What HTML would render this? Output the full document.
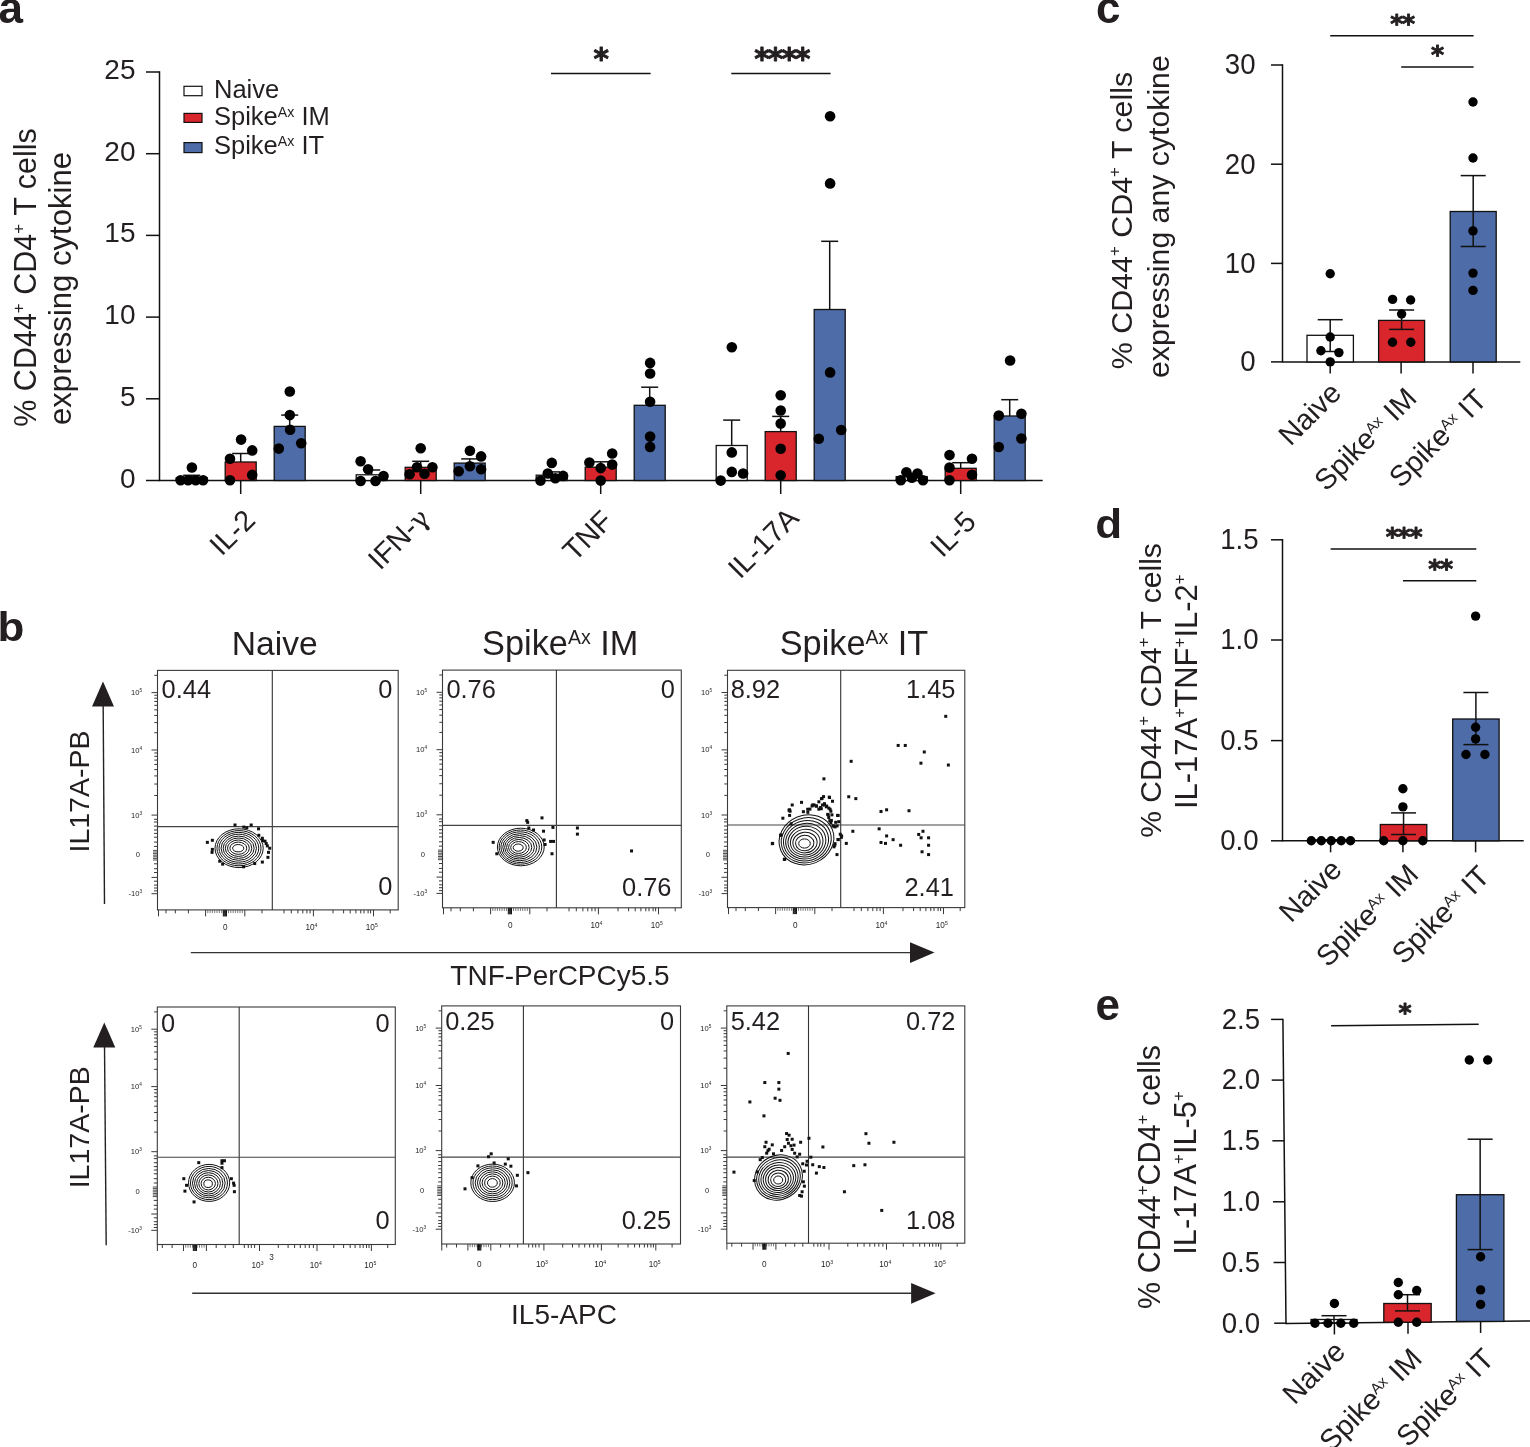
<!DOCTYPE html>
<html><head><meta charset="utf-8"><title>Figure</title>
<style>
html,body{margin:0;padding:0;background:#fff;}
body{width:1530px;height:1447px;overflow:hidden;}
svg{display:block;}
text{font-family:"Liberation Sans", Arial, Helvetica, sans-serif;fill:#231f20;}
</style></head><body>
<svg width="1530" height="1447" viewBox="0 0 1530 1447">
<rect width="1530" height="1447" fill="#fff"/>
<text x="-1.5" y="23" font-size="44" font-weight="bold">a</text>
<text transform="translate(-2.5,640.8) scale(1,0.93)" font-size="44" font-weight="bold">b</text>
<text x="1096" y="22.5" font-size="44" font-weight="bold">c</text>
<text transform="translate(1095.3,538.4) scale(1,0.93)" font-size="44" font-weight="bold">d</text>
<text x="1095.5" y="1020" font-size="44" font-weight="bold">e</text>
<line x1="159.5" y1="71.3" x2="159.5" y2="481.2" stroke="#111" stroke-width="1.5"/>
<line x1="159.5" y1="480.5" x2="1042.7" y2="480.5" stroke="#111" stroke-width="1.5"/>
<line x1="146" y1="480.5" x2="159.5" y2="480.5" stroke="#111" stroke-width="1.5"/>
<text x="135.5" y="487.5" font-size="28" text-anchor="end">0</text>
<line x1="146" y1="398.8" x2="159.5" y2="398.8" stroke="#111" stroke-width="1.5"/>
<text x="135.5" y="405.8" font-size="28" text-anchor="end">5</text>
<line x1="146" y1="317.1" x2="159.5" y2="317.1" stroke="#111" stroke-width="1.5"/>
<text x="135.5" y="324.1" font-size="28" text-anchor="end">10</text>
<line x1="146" y1="235.4" x2="159.5" y2="235.4" stroke="#111" stroke-width="1.5"/>
<text x="135.5" y="242.4" font-size="28" text-anchor="end">15</text>
<line x1="146" y1="153.7" x2="159.5" y2="153.7" stroke="#111" stroke-width="1.5"/>
<text x="135.5" y="160.7" font-size="28" text-anchor="end">20</text>
<line x1="146" y1="72" x2="159.5" y2="72" stroke="#111" stroke-width="1.5"/>
<text x="135.5" y="79" font-size="28" text-anchor="end">25</text>
<line x1="240.7" y1="480.5" x2="240.7" y2="494" stroke="#111" stroke-width="1.5"/>
<line x1="420.7" y1="480.5" x2="420.7" y2="494" stroke="#111" stroke-width="1.5"/>
<line x1="600.7" y1="480.5" x2="600.7" y2="494" stroke="#111" stroke-width="1.5"/>
<line x1="780.7" y1="480.5" x2="780.7" y2="494" stroke="#111" stroke-width="1.5"/>
<line x1="960.7" y1="480.5" x2="960.7" y2="494" stroke="#111" stroke-width="1.5"/>
<line x1="191.7" y1="477.9" x2="191.7" y2="475.3" stroke="#111" stroke-width="1.5"/>
<line x1="183.2" y1="475.3" x2="200.2" y2="475.3" stroke="#111" stroke-width="1.5"/>
<rect x="176.2" y="477.9" width="31" height="2.6" fill="#ffffff" stroke="#111" stroke-width="1.3"/>
<line x1="240.7" y1="462" x2="240.7" y2="453.5" stroke="#111" stroke-width="1.5"/>
<line x1="232.2" y1="453.5" x2="249.2" y2="453.5" stroke="#111" stroke-width="1.5"/>
<rect x="225.2" y="462" width="31" height="18.5" fill="#d8262c" stroke="#111" stroke-width="1.3"/>
<line x1="289.7" y1="426.4" x2="289.7" y2="415.1" stroke="#111" stroke-width="1.5"/>
<line x1="281.2" y1="415.1" x2="298.2" y2="415.1" stroke="#111" stroke-width="1.5"/>
<rect x="274.2" y="426.4" width="31" height="54.1" fill="#4e6ca8" stroke="#111" stroke-width="1.3"/>
<circle cx="180.6" cy="480.3" r="5.3" fill="#000"/>
<circle cx="188.1" cy="480.3" r="5.3" fill="#000"/>
<circle cx="195.7" cy="480.3" r="5.3" fill="#000"/>
<circle cx="203.1" cy="480.3" r="5.3" fill="#000"/>
<circle cx="191.9" cy="467.5" r="5.3" fill="#000"/>
<circle cx="241.1" cy="439.6" r="5.3" fill="#000"/>
<circle cx="252.2" cy="450.4" r="5.3" fill="#000"/>
<circle cx="230" cy="458.7" r="5.3" fill="#000"/>
<circle cx="252.2" cy="474.9" r="5.3" fill="#000"/>
<circle cx="230" cy="480.3" r="5.3" fill="#000"/>
<circle cx="289.8" cy="391.5" r="5.3" fill="#000"/>
<circle cx="289.8" cy="415.1" r="5.3" fill="#000"/>
<circle cx="290.1" cy="429.8" r="5.3" fill="#000"/>
<circle cx="301.2" cy="443.3" r="5.3" fill="#000"/>
<circle cx="278.8" cy="448.6" r="5.3" fill="#000"/>
<line x1="371.7" y1="474.8" x2="371.7" y2="470" stroke="#111" stroke-width="1.5"/>
<line x1="363.2" y1="470" x2="380.2" y2="470" stroke="#111" stroke-width="1.5"/>
<rect x="356.2" y="474.8" width="31" height="5.7" fill="#ffffff" stroke="#111" stroke-width="1.3"/>
<line x1="420.7" y1="467.3" x2="420.7" y2="461.3" stroke="#111" stroke-width="1.5"/>
<line x1="412.2" y1="461.3" x2="429.2" y2="461.3" stroke="#111" stroke-width="1.5"/>
<rect x="405.2" y="467.3" width="31" height="13.2" fill="#d8262c" stroke="#111" stroke-width="1.3"/>
<line x1="469.7" y1="463.1" x2="469.7" y2="458.9" stroke="#111" stroke-width="1.5"/>
<line x1="461.2" y1="458.9" x2="478.2" y2="458.9" stroke="#111" stroke-width="1.5"/>
<rect x="454.2" y="463.1" width="31" height="17.4" fill="#4e6ca8" stroke="#111" stroke-width="1.3"/>
<circle cx="360.6" cy="461.3" r="5.3" fill="#000"/>
<circle cx="368.1" cy="469.3" r="5.3" fill="#000"/>
<circle cx="383.5" cy="476" r="5.3" fill="#000"/>
<circle cx="360.6" cy="481" r="5.3" fill="#000"/>
<circle cx="375.5" cy="481" r="5.3" fill="#000"/>
<circle cx="420.7" cy="448.2" r="5.3" fill="#000"/>
<circle cx="417" cy="467.3" r="5.3" fill="#000"/>
<circle cx="432.4" cy="467.3" r="5.3" fill="#000"/>
<circle cx="409.6" cy="474.3" r="5.3" fill="#000"/>
<circle cx="424.5" cy="473.8" r="5.3" fill="#000"/>
<circle cx="469.9" cy="450.7" r="5.3" fill="#000"/>
<circle cx="481.1" cy="456.4" r="5.3" fill="#000"/>
<circle cx="469.9" cy="466.3" r="5.3" fill="#000"/>
<circle cx="458.7" cy="471.3" r="5.3" fill="#000"/>
<circle cx="481.1" cy="469.3" r="5.3" fill="#000"/>
<line x1="551.7" y1="475.2" x2="551.7" y2="471.9" stroke="#111" stroke-width="1.5"/>
<line x1="543.2" y1="471.9" x2="560.2" y2="471.9" stroke="#111" stroke-width="1.5"/>
<rect x="536.2" y="475.2" width="31" height="5.3" fill="#ffffff" stroke="#111" stroke-width="1.3"/>
<line x1="600.7" y1="467.2" x2="600.7" y2="461.8" stroke="#111" stroke-width="1.5"/>
<line x1="592.2" y1="461.8" x2="609.2" y2="461.8" stroke="#111" stroke-width="1.5"/>
<rect x="585.2" y="467.2" width="31" height="13.3" fill="#d8262c" stroke="#111" stroke-width="1.3"/>
<line x1="649.7" y1="405.3" x2="649.7" y2="387.2" stroke="#111" stroke-width="1.5"/>
<line x1="641.2" y1="387.2" x2="658.2" y2="387.2" stroke="#111" stroke-width="1.5"/>
<rect x="634.2" y="405.3" width="31" height="75.2" fill="#4e6ca8" stroke="#111" stroke-width="1.3"/>
<circle cx="551.8" cy="462.9" r="5.3" fill="#000"/>
<circle cx="547.8" cy="473.5" r="5.3" fill="#000"/>
<circle cx="563.1" cy="475.9" r="5.3" fill="#000"/>
<circle cx="540.5" cy="480.6" r="5.3" fill="#000"/>
<circle cx="555.3" cy="478.2" r="5.3" fill="#000"/>
<circle cx="589.4" cy="462.5" r="5.3" fill="#000"/>
<circle cx="612.2" cy="453.5" r="5.3" fill="#000"/>
<circle cx="612.2" cy="464.6" r="5.3" fill="#000"/>
<circle cx="600.7" cy="468.1" r="5.3" fill="#000"/>
<circle cx="600.7" cy="480.6" r="5.3" fill="#000"/>
<circle cx="650.1" cy="362.9" r="5.3" fill="#000"/>
<circle cx="650.1" cy="373.5" r="5.3" fill="#000"/>
<circle cx="650.1" cy="401.8" r="5.3" fill="#000"/>
<circle cx="650.1" cy="436.6" r="5.3" fill="#000"/>
<circle cx="650.1" cy="446.9" r="5.3" fill="#000"/>
<line x1="731.7" y1="445.5" x2="731.7" y2="420.1" stroke="#111" stroke-width="1.5"/>
<line x1="723.2" y1="420.1" x2="740.2" y2="420.1" stroke="#111" stroke-width="1.5"/>
<rect x="716.2" y="445.5" width="31" height="35" fill="#ffffff" stroke="#111" stroke-width="1.3"/>
<line x1="780.7" y1="431.6" x2="780.7" y2="416.4" stroke="#111" stroke-width="1.5"/>
<line x1="772.2" y1="416.4" x2="789.2" y2="416.4" stroke="#111" stroke-width="1.5"/>
<rect x="765.2" y="431.6" width="31" height="48.9" fill="#d8262c" stroke="#111" stroke-width="1.3"/>
<line x1="829.7" y1="309.5" x2="829.7" y2="241.3" stroke="#111" stroke-width="1.5"/>
<line x1="821.2" y1="241.3" x2="838.2" y2="241.3" stroke="#111" stroke-width="1.5"/>
<rect x="814.2" y="309.5" width="31" height="171" fill="#4e6ca8" stroke="#111" stroke-width="1.3"/>
<circle cx="731.8" cy="347.2" r="5.3" fill="#000"/>
<circle cx="731.8" cy="452.4" r="5.3" fill="#000"/>
<circle cx="731.8" cy="471.9" r="5.3" fill="#000"/>
<circle cx="743.1" cy="473.5" r="5.3" fill="#000"/>
<circle cx="720.7" cy="480.6" r="5.3" fill="#000"/>
<circle cx="780.7" cy="395.2" r="5.3" fill="#000"/>
<circle cx="780.7" cy="410.5" r="5.3" fill="#000"/>
<circle cx="780.7" cy="423.6" r="5.3" fill="#000"/>
<circle cx="780.7" cy="448.8" r="5.3" fill="#000"/>
<circle cx="780.7" cy="475.2" r="5.3" fill="#000"/>
<circle cx="830.1" cy="116.3" r="5.3" fill="#000"/>
<circle cx="830.1" cy="183.4" r="5.3" fill="#000"/>
<circle cx="830.1" cy="372.4" r="5.3" fill="#000"/>
<circle cx="841.2" cy="430" r="5.3" fill="#000"/>
<circle cx="818.8" cy="438.7" r="5.3" fill="#000"/>
<line x1="911.7" y1="476.6" x2="911.7" y2="474.5" stroke="#111" stroke-width="1.5"/>
<line x1="903.2" y1="474.5" x2="920.2" y2="474.5" stroke="#111" stroke-width="1.5"/>
<rect x="896.2" y="476.6" width="31" height="3.9" fill="#ffffff" stroke="#111" stroke-width="1.3"/>
<line x1="960.7" y1="468.3" x2="960.7" y2="462.7" stroke="#111" stroke-width="1.5"/>
<line x1="952.2" y1="462.7" x2="969.2" y2="462.7" stroke="#111" stroke-width="1.5"/>
<rect x="945.2" y="468.3" width="31" height="12.2" fill="#d8262c" stroke="#111" stroke-width="1.3"/>
<line x1="1009.7" y1="416" x2="1009.7" y2="399.7" stroke="#111" stroke-width="1.5"/>
<line x1="1001.2" y1="399.7" x2="1018.2" y2="399.7" stroke="#111" stroke-width="1.5"/>
<rect x="994.2" y="416" width="31" height="64.5" fill="#4e6ca8" stroke="#111" stroke-width="1.3"/>
<circle cx="900.8" cy="480.3" r="5.3" fill="#000"/>
<circle cx="906.4" cy="472.2" r="5.3" fill="#000"/>
<circle cx="911.9" cy="477.7" r="5.3" fill="#000"/>
<circle cx="917.5" cy="473.5" r="5.3" fill="#000"/>
<circle cx="923" cy="480.3" r="5.3" fill="#000"/>
<circle cx="949.5" cy="455.1" r="5.3" fill="#000"/>
<circle cx="972" cy="458.8" r="5.3" fill="#000"/>
<circle cx="949.5" cy="467.5" r="5.3" fill="#000"/>
<circle cx="972" cy="474.8" r="5.3" fill="#000"/>
<circle cx="949.5" cy="480.3" r="5.3" fill="#000"/>
<circle cx="1010.1" cy="360.5" r="5.3" fill="#000"/>
<circle cx="998.8" cy="415.6" r="5.3" fill="#000"/>
<circle cx="1021.4" cy="413.7" r="5.3" fill="#000"/>
<circle cx="1021.4" cy="438.5" r="5.3" fill="#000"/>
<circle cx="998.8" cy="447" r="5.3" fill="#000"/>
<line x1="551" y1="73.5" x2="650.6" y2="73.5" stroke="#111" stroke-width="1.5"/>
<text x="601.2" y="69.2" font-size="29.5" text-anchor="middle" font-weight="bold" style="font-family:&quot;DejaVu Sans&quot;,sans-serif" letter-spacing="0" stroke="#231f20" stroke-width="0.9" stroke-linejoin="round">*</text>
<line x1="731.3" y1="73.5" x2="830.6" y2="73.5" stroke="#111" stroke-width="1.5"/>
<text x="781.4" y="69.2" font-size="29.5" text-anchor="middle" font-weight="bold" style="font-family:&quot;DejaVu Sans&quot;,sans-serif" letter-spacing="-1.8" stroke="#231f20" stroke-width="0.9" stroke-linejoin="round">****</text>
<rect x="184" y="86.3" width="18" height="9.4" fill="#fff" stroke="#111" stroke-width="1.2"/>
<rect x="184" y="113.4" width="18" height="9" fill="#d8262c" stroke="#111" stroke-width="1.2"/>
<rect x="184" y="142.6" width="18" height="10" fill="#4e6ca8" stroke="#111" stroke-width="1.2"/>
<text x="214" y="97.9" font-size="25.5">Naive</text>
<text x="214" y="124.5" font-size="25.5">Spike<tspan font-size="14.2" dy="-8">Ax</tspan><tspan dy="8"> IM</tspan></text>
<text x="214" y="153.8" font-size="25.5">Spike<tspan font-size="14.2" dy="-8">Ax</tspan><tspan dy="8"> IT</tspan></text>
<text transform="translate(35.5,277.5) rotate(-90)" font-size="30.5" text-anchor="middle">% CD44<tspan font-size="17" dy="-12">+</tspan><tspan dy="12"> CD4<tspan font-size="17" dy="-12">+</tspan><tspan dy="12"> T cells</tspan></tspan></text>
<text transform="translate(71.1,288.45) rotate(-90)" font-size="31.1" text-anchor="middle">expressing cytokine</text>
<text transform="translate(256.8,521.75) rotate(-45)" font-size="29" text-anchor="end">IL-2</text>
<text transform="translate(431.25,519.85) rotate(-45)" font-size="29" text-anchor="end">IFN-<tspan font-family="DejaVu Serif" font-size="27">&#947;</tspan></text>
<text transform="translate(614.5,522.65) rotate(-45)" font-size="29" text-anchor="end">TNF</text>
<text transform="translate(800.35,519.7) rotate(-45)" font-size="29" text-anchor="end">IL-17A</text>
<text transform="translate(977.6,523.4) rotate(-45)" font-size="29" text-anchor="end">IL-5</text>
<line x1="1282.5" y1="64.3" x2="1282.5" y2="362.6" stroke="#111" stroke-width="1.5"/>
<line x1="1282.5" y1="361.9" x2="1520.3" y2="361.9" stroke="#111" stroke-width="1.5"/>
<line x1="1271" y1="361.9" x2="1282.5" y2="361.9" stroke="#111" stroke-width="1.5"/>
<text transform="translate(1255.5,371.2) scale(1,1.08)" font-size="27.6" text-anchor="end">0</text>
<line x1="1271" y1="263.4" x2="1282.5" y2="263.4" stroke="#111" stroke-width="1.5"/>
<text transform="translate(1255.5,272.7) scale(1,1.08)" font-size="27.6" text-anchor="end">10</text>
<line x1="1271" y1="164.2" x2="1282.5" y2="164.2" stroke="#111" stroke-width="1.5"/>
<text transform="translate(1255.5,173.5) scale(1,1.08)" font-size="27.6" text-anchor="end">20</text>
<line x1="1271" y1="65" x2="1282.5" y2="65" stroke="#111" stroke-width="1.5"/>
<text transform="translate(1255.5,74.3) scale(1,1.08)" font-size="27.6" text-anchor="end">30</text>
<line x1="1330.2" y1="361.9" x2="1330.2" y2="373.4" stroke="#111" stroke-width="1.5"/>
<line x1="1401.1" y1="361.9" x2="1401.1" y2="373.4" stroke="#111" stroke-width="1.5"/>
<line x1="1473" y1="361.9" x2="1473" y2="373.4" stroke="#111" stroke-width="1.5"/>
<rect x="1307" y="335.3" width="46.4" height="26.6" fill="#ffffff" stroke="#111" stroke-width="1.3"/>
<line x1="1330.2" y1="319.7" x2="1330.2" y2="351.5" stroke="#111" stroke-width="1.5"/>
<line x1="1317.7" y1="319.7" x2="1342.7" y2="319.7" stroke="#111" stroke-width="1.5"/>
<line x1="1317.7" y1="351.5" x2="1342.7" y2="351.5" stroke="#111" stroke-width="1.5"/>
<rect x="1378.6" y="320.4" width="46" height="41.5" fill="#d8262c" stroke="#111" stroke-width="1.3"/>
<line x1="1401.6" y1="310" x2="1401.6" y2="329.4" stroke="#111" stroke-width="1.5"/>
<line x1="1389.1" y1="310" x2="1414.1" y2="310" stroke="#111" stroke-width="1.5"/>
<line x1="1389.1" y1="329.4" x2="1414.1" y2="329.4" stroke="#111" stroke-width="1.5"/>
<rect x="1450.2" y="211.5" width="46" height="150.4" fill="#4e6ca8" stroke="#111" stroke-width="1.3"/>
<line x1="1473.2" y1="175.6" x2="1473.2" y2="246.5" stroke="#111" stroke-width="1.5"/>
<line x1="1460.7" y1="175.6" x2="1485.7" y2="175.6" stroke="#111" stroke-width="1.5"/>
<line x1="1460.7" y1="246.5" x2="1485.7" y2="246.5" stroke="#111" stroke-width="1.5"/>
<circle cx="1330.2" cy="273.8" r="4.7" fill="#000"/>
<circle cx="1330.2" cy="337" r="4.7" fill="#000"/>
<circle cx="1320.9" cy="350.8" r="4.7" fill="#000"/>
<circle cx="1338.9" cy="352.6" r="4.7" fill="#000"/>
<circle cx="1330.2" cy="361.9" r="4.7" fill="#000"/>
<circle cx="1392.6" cy="299.4" r="4.7" fill="#000"/>
<circle cx="1410.6" cy="300" r="4.7" fill="#000"/>
<circle cx="1401.6" cy="314" r="4.7" fill="#000"/>
<circle cx="1392.5" cy="342.2" r="4.7" fill="#000"/>
<circle cx="1410.8" cy="342.2" r="4.7" fill="#000"/>
<circle cx="1473" cy="102" r="4.7" fill="#000"/>
<circle cx="1473" cy="158" r="4.7" fill="#000"/>
<circle cx="1473" cy="230.9" r="4.7" fill="#000"/>
<circle cx="1473" cy="273.1" r="4.7" fill="#000"/>
<circle cx="1473" cy="290.4" r="4.7" fill="#000"/>
<line x1="1330.2" y1="35.8" x2="1473.6" y2="35.8" stroke="#111" stroke-width="1.5"/>
<text x="1402.1" y="32.4" font-size="25" text-anchor="middle" font-weight="bold" style="font-family:&quot;DejaVu Sans&quot;,sans-serif" letter-spacing="-1.2" stroke="#231f20" stroke-width="0.9" stroke-linejoin="round">**</text>
<line x1="1401.2" y1="67.1" x2="1473.6" y2="67.1" stroke="#111" stroke-width="1.5"/>
<text x="1437.65" y="62.6" font-size="25" text-anchor="middle" font-weight="bold" style="font-family:&quot;DejaVu Sans&quot;,sans-serif" letter-spacing="0" stroke="#231f20" stroke-width="0.9" stroke-linejoin="round">*</text>
<text transform="translate(1132.1,220.55) rotate(-90)" font-size="30.4" text-anchor="middle">% CD44<tspan font-size="17" dy="-12">+</tspan><tspan dy="12"> CD4<tspan font-size="17" dy="-12">+</tspan><tspan dy="12"> T cells</tspan></tspan></text>
<text transform="translate(1168.8,216.65) rotate(-90)" font-size="30.25" text-anchor="middle">expressing any cytokine</text>
<text transform="translate(1343,394.5) rotate(-45)" font-size="29" text-anchor="end">Naive</text>
<text transform="translate(1418.4,400) rotate(-45)" font-size="29" text-anchor="end">Spike<tspan font-size="15" dy="-9">Ax</tspan><tspan dy="9"> IM</tspan></text>
<text transform="translate(1488.5,401.4) rotate(-45)" font-size="29" text-anchor="end">Spike<tspan font-size="15" dy="-9">Ax</tspan><tspan dy="9"> IT</tspan></text>
<line x1="1282.5" y1="539.1" x2="1282.5" y2="841.5" stroke="#111" stroke-width="1.5"/>
<line x1="1282.5" y1="840.8" x2="1523.7" y2="840.8" stroke="#111" stroke-width="1.5"/>
<line x1="1271" y1="840.8" x2="1282.5" y2="840.8" stroke="#111" stroke-width="1.5"/>
<text transform="translate(1258.5,850.1) scale(1,1.08)" font-size="27.6" text-anchor="end">0.0</text>
<line x1="1271" y1="740.6" x2="1282.5" y2="740.6" stroke="#111" stroke-width="1.5"/>
<text transform="translate(1258.5,749.9) scale(1,1.08)" font-size="27.6" text-anchor="end">0.5</text>
<line x1="1271" y1="640" x2="1282.5" y2="640" stroke="#111" stroke-width="1.5"/>
<text transform="translate(1258.5,649.3) scale(1,1.08)" font-size="27.6" text-anchor="end">1.0</text>
<line x1="1271" y1="539.8" x2="1282.5" y2="539.8" stroke="#111" stroke-width="1.5"/>
<text transform="translate(1258.5,549.1) scale(1,1.08)" font-size="27.6" text-anchor="end">1.5</text>
<line x1="1330.6" y1="840.8" x2="1330.6" y2="852.3" stroke="#111" stroke-width="1.5"/>
<line x1="1402.9" y1="840.8" x2="1402.9" y2="852.3" stroke="#111" stroke-width="1.5"/>
<line x1="1475.6" y1="840.8" x2="1475.6" y2="852.3" stroke="#111" stroke-width="1.5"/>
<rect x="1308" y="839.8" width="45" height="1" fill="#ffffff" stroke="#111" stroke-width="1.3"/>
<line x1="1330.5" y1="839.8" x2="1330.5" y2="839.8" stroke="#111" stroke-width="1.5"/>
<line x1="1318" y1="839.8" x2="1343" y2="839.8" stroke="#111" stroke-width="1.5"/>
<line x1="1318" y1="839.8" x2="1343" y2="839.8" stroke="#111" stroke-width="1.5"/>
<rect x="1380.3" y="824.5" width="46.5" height="16.3" fill="#d8262c" stroke="#111" stroke-width="1.3"/>
<line x1="1403.55" y1="812.9" x2="1403.55" y2="834.5" stroke="#111" stroke-width="1.5"/>
<line x1="1391.05" y1="812.9" x2="1416.05" y2="812.9" stroke="#111" stroke-width="1.5"/>
<line x1="1391.05" y1="834.5" x2="1416.05" y2="834.5" stroke="#111" stroke-width="1.5"/>
<rect x="1452.7" y="719" width="46.4" height="121.8" fill="#4e6ca8" stroke="#111" stroke-width="1.3"/>
<line x1="1475.9" y1="692.5" x2="1475.9" y2="744.6" stroke="#111" stroke-width="1.5"/>
<line x1="1463.4" y1="692.5" x2="1488.4" y2="692.5" stroke="#111" stroke-width="1.5"/>
<line x1="1463.4" y1="744.6" x2="1488.4" y2="744.6" stroke="#111" stroke-width="1.5"/>
<circle cx="1311.3" cy="840.8" r="4.7" fill="#000"/>
<circle cx="1321.3" cy="840.8" r="4.7" fill="#000"/>
<circle cx="1331.2" cy="840.8" r="4.7" fill="#000"/>
<circle cx="1341.2" cy="840.8" r="4.7" fill="#000"/>
<circle cx="1350.5" cy="840.8" r="4.7" fill="#000"/>
<circle cx="1402.9" cy="788.7" r="4.7" fill="#000"/>
<circle cx="1402.9" cy="806.9" r="4.7" fill="#000"/>
<circle cx="1383.7" cy="840.8" r="4.7" fill="#000"/>
<circle cx="1402.9" cy="840.8" r="4.7" fill="#000"/>
<circle cx="1422.8" cy="840.8" r="4.7" fill="#000"/>
<circle cx="1475.6" cy="616.1" r="4.7" fill="#000"/>
<circle cx="1475.6" cy="727.3" r="4.7" fill="#000"/>
<circle cx="1475.6" cy="738.9" r="4.7" fill="#000"/>
<circle cx="1466" cy="754.5" r="4.7" fill="#000"/>
<circle cx="1484.9" cy="754.5" r="4.7" fill="#000"/>
<line x1="1330.6" y1="549" x2="1476.3" y2="549" stroke="#111" stroke-width="1.5"/>
<text x="1403.55" y="545.1" font-size="25" text-anchor="middle" font-weight="bold" style="font-family:&quot;DejaVu Sans&quot;,sans-serif" letter-spacing="-1.2" stroke="#231f20" stroke-width="0.9" stroke-linejoin="round">***</text>
<line x1="1403" y1="580.7" x2="1476.3" y2="580.7" stroke="#111" stroke-width="1.5"/>
<text x="1440.1" y="576.9" font-size="25" text-anchor="middle" font-weight="bold" style="font-family:&quot;DejaVu Sans&quot;,sans-serif" letter-spacing="-1.2" stroke="#231f20" stroke-width="0.9" stroke-linejoin="round">**</text>
<text transform="translate(1160.5,690.45) rotate(-90)" font-size="30.1" text-anchor="middle">% CD44<tspan font-size="17" dy="-12">+</tspan><tspan dy="12"> CD4<tspan font-size="17" dy="-12">+</tspan><tspan dy="12"> T cells</tspan></tspan></text>
<text transform="translate(1197,691.65) rotate(-90)" font-size="31" text-anchor="middle">IL-17A<tspan font-size="17" dy="-12">+</tspan><tspan dy="12">TNF<tspan font-size="17" dy="-12">+</tspan><tspan dy="12">IL-2<tspan font-size="17" dy="-12">+</tspan><tspan dy="12"></tspan></tspan></tspan></text>
<text transform="translate(1343.35,871.35) rotate(-45)" font-size="29" text-anchor="end">Naive</text>
<text transform="translate(1420.1,876.2) rotate(-45)" font-size="29" text-anchor="end">Spike<tspan font-size="15" dy="-9">Ax</tspan><tspan dy="9"> IM</tspan></text>
<text transform="translate(1491.4,878) rotate(-45)" font-size="29" text-anchor="end">Spike<tspan font-size="15" dy="-9">Ax</tspan><tspan dy="9"> IT</tspan></text>
<line x1="1282.9" y1="1018.7" x2="1286" y2="1324.2" stroke="#111" stroke-width="1.5"/>
<line x1="1286" y1="1323.5" x2="1530" y2="1320.9" stroke="#111" stroke-width="1.5"/>
<line x1="1274.2" y1="1323.2" x2="1286" y2="1323.2" stroke="#111" stroke-width="1.5"/>
<text transform="translate(1260,1332.5) scale(1,1.08)" font-size="27.6" text-anchor="end">0.0</text>
<line x1="1273.58" y1="1262.5" x2="1285.38" y2="1262.5" stroke="#111" stroke-width="1.5"/>
<text transform="translate(1260,1271.8) scale(1,1.08)" font-size="27.6" text-anchor="end">0.5</text>
<line x1="1272.96" y1="1201.8" x2="1284.76" y2="1201.8" stroke="#111" stroke-width="1.5"/>
<text transform="translate(1260,1211.1) scale(1,1.08)" font-size="27.6" text-anchor="end">1.0</text>
<line x1="1272.34" y1="1140.8" x2="1284.14" y2="1140.8" stroke="#111" stroke-width="1.5"/>
<text transform="translate(1260,1150.1) scale(1,1.08)" font-size="27.6" text-anchor="end">1.5</text>
<line x1="1271.72" y1="1080.1" x2="1283.52" y2="1080.1" stroke="#111" stroke-width="1.5"/>
<text transform="translate(1260,1089.4) scale(1,1.08)" font-size="27.6" text-anchor="end">2.0</text>
<line x1="1271.1" y1="1019.4" x2="1282.9" y2="1019.4" stroke="#111" stroke-width="1.5"/>
<text transform="translate(1260,1028.7) scale(1,1.08)" font-size="27.6" text-anchor="end">2.5</text>
<line x1="1334.4" y1="1322.98" x2="1334.4" y2="1334.48" stroke="#111" stroke-width="1.5"/>
<line x1="1408" y1="1322.2" x2="1408" y2="1333.7" stroke="#111" stroke-width="1.5"/>
<line x1="1480.6" y1="1321.43" x2="1480.6" y2="1332.93" stroke="#111" stroke-width="1.5"/>
<rect x="1311" y="1319.5" width="46" height="3.49" fill="#ffffff" stroke="#111" stroke-width="1.3"/>
<line x1="1334" y1="1315.7" x2="1334" y2="1323" stroke="#111" stroke-width="1.5"/>
<line x1="1321.5" y1="1315.7" x2="1346.5" y2="1315.7" stroke="#111" stroke-width="1.5"/>
<line x1="1321.5" y1="1323" x2="1346.5" y2="1323" stroke="#111" stroke-width="1.5"/>
<rect x="1383.8" y="1303.5" width="47.4" height="18.71" fill="#d8262c" stroke="#111" stroke-width="1.3"/>
<line x1="1407.5" y1="1294.7" x2="1407.5" y2="1310.9" stroke="#111" stroke-width="1.5"/>
<line x1="1395" y1="1294.7" x2="1420" y2="1294.7" stroke="#111" stroke-width="1.5"/>
<line x1="1395" y1="1310.9" x2="1420" y2="1310.9" stroke="#111" stroke-width="1.5"/>
<rect x="1456.4" y="1194.7" width="47.5" height="126.73" fill="#4e6ca8" stroke="#111" stroke-width="1.3"/>
<line x1="1480.15" y1="1139.2" x2="1480.15" y2="1249.6" stroke="#111" stroke-width="1.5"/>
<line x1="1467.65" y1="1139.2" x2="1492.65" y2="1139.2" stroke="#111" stroke-width="1.5"/>
<line x1="1467.65" y1="1249.6" x2="1492.65" y2="1249.6" stroke="#111" stroke-width="1.5"/>
<circle cx="1334.4" cy="1303.5" r="4.7" fill="#000"/>
<circle cx="1315" cy="1323.2" r="4.7" fill="#000"/>
<circle cx="1327.9" cy="1323.2" r="4.7" fill="#000"/>
<circle cx="1340.8" cy="1323.2" r="4.7" fill="#000"/>
<circle cx="1353.7" cy="1323.2" r="4.7" fill="#000"/>
<circle cx="1398.3" cy="1282.5" r="4.7" fill="#000"/>
<circle cx="1398.3" cy="1294.7" r="4.7" fill="#000"/>
<circle cx="1416.7" cy="1290.5" r="4.7" fill="#000"/>
<circle cx="1398.3" cy="1322.2" r="4.7" fill="#000"/>
<circle cx="1416.7" cy="1322.2" r="4.7" fill="#000"/>
<circle cx="1469.3" cy="1060" r="4.7" fill="#000"/>
<circle cx="1487.7" cy="1060" r="4.7" fill="#000"/>
<circle cx="1480.6" cy="1256.7" r="4.7" fill="#000"/>
<circle cx="1480.6" cy="1289.9" r="4.7" fill="#000"/>
<circle cx="1480.6" cy="1304.4" r="4.7" fill="#000"/>
<line x1="1331.1" y1="1025.8" x2="1478.7" y2="1024.2" stroke="#111" stroke-width="1.5"/>
<text x="1405.1" y="1020.9" font-size="25" text-anchor="middle" font-weight="bold" style="font-family:&quot;DejaVu Sans&quot;,sans-serif" letter-spacing="0" stroke="#231f20" stroke-width="0.9" stroke-linejoin="round">*</text>
<text transform="translate(1160,1176.95) rotate(-90)" font-size="30.5" text-anchor="middle">% CD44<tspan font-size="17" dy="-12">+</tspan><tspan dy="12">CD4<tspan font-size="17" dy="-12">+</tspan><tspan dy="12"> cells</tspan></tspan></text>
<text transform="translate(1196.4,1172.9) rotate(-90)" font-size="30.8" text-anchor="middle">IL-17A<tspan font-size="17" dy="-12">+</tspan><tspan dy="12">IL-5<tspan font-size="17" dy="-12">+</tspan><tspan dy="12"></tspan></tspan></text>
<text transform="translate(1347,1353.3) rotate(-45)" font-size="29" text-anchor="end">Naive</text>
<text transform="translate(1423.5,1360.5) rotate(-45)" font-size="29" text-anchor="end">Spike<tspan font-size="15" dy="-9">Ax</tspan><tspan dy="9"> IM</tspan></text>
<text transform="translate(1495.8,1360.7) rotate(-45)" font-size="29" text-anchor="end">Spike<tspan font-size="15" dy="-9">Ax</tspan><tspan dy="9"> IT</tspan></text>
<line x1="151.5" y1="692.6" x2="157.5" y2="692.6" stroke="#222" stroke-width="0.9"/>
<line x1="151.5" y1="750" x2="157.5" y2="750" stroke="#222" stroke-width="0.9"/>
<line x1="151.5" y1="815.1" x2="157.5" y2="815.1" stroke="#222" stroke-width="0.9"/>
<line x1="154.3" y1="732.72" x2="157.5" y2="732.72" stroke="#222" stroke-width="0.9"/>
<line x1="154.3" y1="722.61" x2="157.5" y2="722.61" stroke="#222" stroke-width="0.9"/>
<line x1="154.3" y1="715.44" x2="157.5" y2="715.44" stroke="#222" stroke-width="0.9"/>
<line x1="154.3" y1="709.88" x2="157.5" y2="709.88" stroke="#222" stroke-width="0.9"/>
<line x1="154.3" y1="705.33" x2="157.5" y2="705.33" stroke="#222" stroke-width="0.9"/>
<line x1="154.3" y1="701.49" x2="157.5" y2="701.49" stroke="#222" stroke-width="0.9"/>
<line x1="154.3" y1="698.16" x2="157.5" y2="698.16" stroke="#222" stroke-width="0.9"/>
<line x1="154.3" y1="695.23" x2="157.5" y2="695.23" stroke="#222" stroke-width="0.9"/>
<line x1="154.3" y1="795.5" x2="157.5" y2="795.5" stroke="#222" stroke-width="0.9"/>
<line x1="154.3" y1="784.04" x2="157.5" y2="784.04" stroke="#222" stroke-width="0.9"/>
<line x1="154.3" y1="775.91" x2="157.5" y2="775.91" stroke="#222" stroke-width="0.9"/>
<line x1="154.3" y1="769.6" x2="157.5" y2="769.6" stroke="#222" stroke-width="0.9"/>
<line x1="154.3" y1="764.44" x2="157.5" y2="764.44" stroke="#222" stroke-width="0.9"/>
<line x1="154.3" y1="760.08" x2="157.5" y2="760.08" stroke="#222" stroke-width="0.9"/>
<line x1="154.3" y1="756.31" x2="157.5" y2="756.31" stroke="#222" stroke-width="0.9"/>
<line x1="154.3" y1="752.98" x2="157.5" y2="752.98" stroke="#222" stroke-width="0.9"/>
<line x1="154.3" y1="675.32" x2="157.5" y2="675.32" stroke="#222" stroke-width="0.9"/>
<line x1="154" y1="819.3" x2="157.5" y2="819.3" stroke="#222" stroke-width="0.9"/>
<line x1="154" y1="822" x2="157.5" y2="822" stroke="#222" stroke-width="0.9"/>
<line x1="154" y1="826.1" x2="157.5" y2="826.1" stroke="#222" stroke-width="0.9"/>
<line x1="154" y1="830" x2="157.5" y2="830" stroke="#222" stroke-width="0.9"/>
<line x1="154" y1="833.4" x2="157.5" y2="833.4" stroke="#222" stroke-width="0.9"/>
<line x1="154" y1="837.2" x2="157.5" y2="837.2" stroke="#222" stroke-width="0.9"/>
<line x1="154" y1="842.1" x2="157.5" y2="842.1" stroke="#222" stroke-width="0.9"/>
<line x1="154" y1="846.4" x2="157.5" y2="846.4" stroke="#222" stroke-width="0.9"/>
<line x1="154" y1="863.8" x2="157.5" y2="863.8" stroke="#222" stroke-width="0.9"/>
<line x1="154" y1="868.7" x2="157.5" y2="868.7" stroke="#222" stroke-width="0.9"/>
<line x1="154" y1="872.5" x2="157.5" y2="872.5" stroke="#222" stroke-width="0.9"/>
<line x1="154" y1="881.2" x2="157.5" y2="881.2" stroke="#222" stroke-width="0.9"/>
<line x1="154" y1="885.1" x2="157.5" y2="885.1" stroke="#222" stroke-width="0.9"/>
<line x1="154" y1="888" x2="157.5" y2="888" stroke="#222" stroke-width="0.9"/>
<line x1="154" y1="890.9" x2="157.5" y2="890.9" stroke="#222" stroke-width="0.9"/>
<line x1="151.5" y1="877.4" x2="157.5" y2="877.4" stroke="#222" stroke-width="0.9"/>
<line x1="151.5" y1="893.7" x2="157.5" y2="893.7" stroke="#222" stroke-width="0.9"/>
<line x1="153" y1="850.4" x2="157.5" y2="850.4" stroke="#222" stroke-width="0.8"/>
<line x1="153" y1="852" x2="157.5" y2="852" stroke="#222" stroke-width="0.8"/>
<line x1="153" y1="853.6" x2="157.5" y2="853.6" stroke="#222" stroke-width="0.8"/>
<line x1="153" y1="855.2" x2="157.5" y2="855.2" stroke="#222" stroke-width="0.8"/>
<line x1="153" y1="856.8" x2="157.5" y2="856.8" stroke="#222" stroke-width="0.8"/>
<line x1="153" y1="858.4" x2="157.5" y2="858.4" stroke="#222" stroke-width="0.8"/>
<line x1="153" y1="860" x2="157.5" y2="860" stroke="#222" stroke-width="0.8"/>
<text x="142" y="695.1" font-size="7.6" text-anchor="end" fill="#222">10<tspan font-size="4.7" dy="-3">5</tspan></text>
<text x="142" y="752.5" font-size="7.6" text-anchor="end" fill="#222">10<tspan font-size="4.7" dy="-3">4</tspan></text>
<text x="142" y="817.6" font-size="7.6" text-anchor="end" fill="#222">10<tspan font-size="4.7" dy="-3">3</tspan></text>
<text x="140" y="857.2" font-size="7.6" text-anchor="end" fill="#222">0</text>
<text x="142" y="896.2" font-size="7.6" text-anchor="end" fill="#222">-10<tspan font-size="4.7" dy="-3">3</tspan></text>
<line x1="158.5" y1="909.9" x2="158.5" y2="916.4" stroke="#222" stroke-width="0.9"/>
<line x1="205.6" y1="909.9" x2="205.6" y2="916.4" stroke="#222" stroke-width="0.9"/>
<line x1="244.8" y1="909.9" x2="244.8" y2="916.4" stroke="#222" stroke-width="0.9"/>
<line x1="313.4" y1="909.9" x2="313.4" y2="916.4" stroke="#222" stroke-width="0.9"/>
<line x1="373.5" y1="909.9" x2="373.5" y2="916.4" stroke="#222" stroke-width="0.9"/>
<line x1="166" y1="909.9" x2="166" y2="913.4" stroke="#222" stroke-width="0.9"/>
<line x1="175.3" y1="909.9" x2="175.3" y2="913.4" stroke="#222" stroke-width="0.9"/>
<line x1="188.4" y1="909.9" x2="188.4" y2="913.4" stroke="#222" stroke-width="0.9"/>
<line x1="262" y1="909.9" x2="262" y2="913.4" stroke="#222" stroke-width="0.9"/>
<line x1="284" y1="909.9" x2="284" y2="913.4" stroke="#222" stroke-width="0.9"/>
<line x1="291.3" y1="909.9" x2="291.3" y2="913.4" stroke="#222" stroke-width="0.9"/>
<line x1="297.9" y1="909.9" x2="297.9" y2="913.4" stroke="#222" stroke-width="0.9"/>
<line x1="302.8" y1="909.9" x2="302.8" y2="913.4" stroke="#222" stroke-width="0.9"/>
<line x1="306.9" y1="909.9" x2="306.9" y2="913.4" stroke="#222" stroke-width="0.9"/>
<line x1="310.1" y1="909.9" x2="310.1" y2="913.4" stroke="#222" stroke-width="0.9"/>
<line x1="333" y1="909.9" x2="333" y2="913.4" stroke="#222" stroke-width="0.9"/>
<line x1="343.6" y1="909.9" x2="343.6" y2="913.4" stroke="#222" stroke-width="0.9"/>
<line x1="350.2" y1="909.9" x2="350.2" y2="913.4" stroke="#222" stroke-width="0.9"/>
<line x1="355.9" y1="909.9" x2="355.9" y2="913.4" stroke="#222" stroke-width="0.9"/>
<line x1="360.8" y1="909.9" x2="360.8" y2="913.4" stroke="#222" stroke-width="0.9"/>
<line x1="364" y1="909.9" x2="364" y2="913.4" stroke="#222" stroke-width="0.9"/>
<line x1="368.1" y1="909.9" x2="368.1" y2="913.4" stroke="#222" stroke-width="0.9"/>
<line x1="370.6" y1="909.9" x2="370.6" y2="913.4" stroke="#222" stroke-width="0.9"/>
<line x1="390.2" y1="909.9" x2="390.2" y2="913.4" stroke="#222" stroke-width="0.9"/>
<line x1="207.8" y1="909.9" x2="207.8" y2="913.1" stroke="#444" stroke-width="0.7"/>
<line x1="210.1" y1="909.9" x2="210.1" y2="913.1" stroke="#444" stroke-width="0.7"/>
<line x1="212.4" y1="909.9" x2="212.4" y2="913.1" stroke="#444" stroke-width="0.7"/>
<line x1="214.7" y1="909.9" x2="214.7" y2="913.1" stroke="#444" stroke-width="0.7"/>
<line x1="217" y1="909.9" x2="217" y2="913.1" stroke="#444" stroke-width="0.7"/>
<line x1="219.3" y1="909.9" x2="219.3" y2="913.1" stroke="#444" stroke-width="0.7"/>
<line x1="221.6" y1="909.9" x2="221.6" y2="913.1" stroke="#444" stroke-width="0.7"/>
<line x1="223.9" y1="909.9" x2="223.9" y2="913.1" stroke="#444" stroke-width="0.7"/>
<line x1="226.2" y1="909.9" x2="226.2" y2="913.1" stroke="#444" stroke-width="0.7"/>
<line x1="228.5" y1="909.9" x2="228.5" y2="913.1" stroke="#444" stroke-width="0.7"/>
<line x1="230.8" y1="909.9" x2="230.8" y2="913.1" stroke="#444" stroke-width="0.7"/>
<line x1="233.1" y1="909.9" x2="233.1" y2="913.1" stroke="#444" stroke-width="0.7"/>
<line x1="235.4" y1="909.9" x2="235.4" y2="913.1" stroke="#444" stroke-width="0.7"/>
<line x1="237.7" y1="909.9" x2="237.7" y2="913.1" stroke="#444" stroke-width="0.7"/>
<line x1="240" y1="909.9" x2="240" y2="913.1" stroke="#444" stroke-width="0.7"/>
<line x1="242.3" y1="909.9" x2="242.3" y2="913.1" stroke="#444" stroke-width="0.7"/>
<line x1="223.3" y1="909.9" x2="223.3" y2="916.4" stroke="#000" stroke-width="0.9"/>
<line x1="224.1" y1="909.9" x2="224.1" y2="916.4" stroke="#000" stroke-width="0.9"/>
<line x1="224.9" y1="909.9" x2="224.9" y2="916.4" stroke="#000" stroke-width="0.9"/>
<line x1="225.7" y1="909.9" x2="225.7" y2="916.4" stroke="#000" stroke-width="0.9"/>
<line x1="226.5" y1="909.9" x2="226.5" y2="916.4" stroke="#000" stroke-width="0.9"/>
<text x="225.2" y="930.2" font-size="8.2" text-anchor="middle" fill="#222">0</text>
<text x="311.4" y="930.2" font-size="8.2" text-anchor="middle" fill="#222">10<tspan font-size="5.1" dy="-3">4</tspan></text>
<text x="371.8" y="930.2" font-size="8.2" text-anchor="middle" fill="#222">10<tspan font-size="5.1" dy="-3">5</tspan></text>
<rect x="157.5" y="670.4" width="240.7" height="239.5" fill="none" stroke="#3a3a3a" stroke-width="1.1"/>
<line x1="272.3" y1="670.4" x2="272.3" y2="909.9" stroke="#333" stroke-width="1.1"/>
<line x1="157.5" y1="826.6" x2="398.2" y2="826.6" stroke="#444" stroke-width="1.1"/>
<ellipse cx="238.2" cy="848.2" rx="5.6" ry="3.7" fill="none" stroke="#111" stroke-width="1"/>
<ellipse cx="238.31" cy="848.2" rx="8.45" ry="6.12" fill="none" stroke="#111" stroke-width="1"/>
<ellipse cx="238.42" cy="848.2" rx="10.91" ry="8.21" fill="none" stroke="#111" stroke-width="1"/>
<ellipse cx="238.54" cy="848.2" rx="13.25" ry="10.19" fill="none" stroke="#111" stroke-width="1"/>
<ellipse cx="238.65" cy="848.2" rx="15.51" ry="12.11" fill="none" stroke="#111" stroke-width="1"/>
<ellipse cx="238.76" cy="848.2" rx="17.72" ry="13.98" fill="none" stroke="#111" stroke-width="1"/>
<ellipse cx="238.88" cy="848.2" rx="19.88" ry="15.82" fill="none" stroke="#111" stroke-width="1"/>
<ellipse cx="238.99" cy="848.2" rx="22.01" ry="17.62" fill="none" stroke="#111" stroke-width="1"/>
<ellipse cx="239.1" cy="848.2" rx="24.1" ry="19.4" fill="none" stroke="#111" stroke-width="1"/>
<rect x="233.5" y="823.5" width="3" height="3" fill="#111"/>
<rect x="242.32" y="825.56" width="3" height="3" fill="#111"/>
<rect x="245.26" y="826.15" width="3" height="3" fill="#111"/>
<rect x="249.68" y="823.5" width="3" height="3" fill="#111"/>
<rect x="257.03" y="827.32" width="3" height="3" fill="#111"/>
<rect x="257.32" y="833.79" width="3" height="3" fill="#111"/>
<rect x="260.85" y="836.74" width="3" height="3" fill="#111"/>
<rect x="264.68" y="842.03" width="3" height="3" fill="#111"/>
<rect x="268.21" y="846.74" width="3" height="3" fill="#111"/>
<rect x="267.03" y="850.85" width="3" height="3" fill="#111"/>
<rect x="266.44" y="855.85" width="3" height="3" fill="#111"/>
<rect x="260.85" y="860.56" width="3" height="3" fill="#111"/>
<rect x="253.21" y="862.03" width="3" height="3" fill="#111"/>
<rect x="242.03" y="865.26" width="3" height="3" fill="#111"/>
<rect x="221.15" y="862.62" width="3" height="3" fill="#111"/>
<rect x="218.21" y="859.68" width="3" height="3" fill="#111"/>
<rect x="210.56" y="850.85" width="3" height="3" fill="#111"/>
<rect x="210.85" y="847.91" width="3" height="3" fill="#111"/>
<rect x="205.85" y="840.85" width="3" height="3" fill="#111"/>
<rect x="210.85" y="838.79" width="3" height="3" fill="#111"/>
<rect x="261.15" y="839.09" width="3" height="3" fill="#111"/>
<rect x="263.5" y="839.68" width="3" height="3" fill="#111"/>
<rect x="265.85" y="844.38" width="3" height="3" fill="#111"/>
<text x="161.6" y="697.6" font-size="25.4">0.44</text>
<text x="392.4" y="697.6" font-size="25.4" text-anchor="end">0</text>
<text x="392.4" y="895.2" font-size="25.4" text-anchor="end">0</text>
<line x1="436.5" y1="692.3" x2="442.5" y2="692.3" stroke="#222" stroke-width="0.9"/>
<line x1="436.5" y1="749.7" x2="442.5" y2="749.7" stroke="#222" stroke-width="0.9"/>
<line x1="436.5" y1="814.8" x2="442.5" y2="814.8" stroke="#222" stroke-width="0.9"/>
<line x1="439.3" y1="732.42" x2="442.5" y2="732.42" stroke="#222" stroke-width="0.9"/>
<line x1="439.3" y1="722.31" x2="442.5" y2="722.31" stroke="#222" stroke-width="0.9"/>
<line x1="439.3" y1="715.14" x2="442.5" y2="715.14" stroke="#222" stroke-width="0.9"/>
<line x1="439.3" y1="709.58" x2="442.5" y2="709.58" stroke="#222" stroke-width="0.9"/>
<line x1="439.3" y1="705.03" x2="442.5" y2="705.03" stroke="#222" stroke-width="0.9"/>
<line x1="439.3" y1="701.19" x2="442.5" y2="701.19" stroke="#222" stroke-width="0.9"/>
<line x1="439.3" y1="697.86" x2="442.5" y2="697.86" stroke="#222" stroke-width="0.9"/>
<line x1="439.3" y1="694.93" x2="442.5" y2="694.93" stroke="#222" stroke-width="0.9"/>
<line x1="439.3" y1="795.2" x2="442.5" y2="795.2" stroke="#222" stroke-width="0.9"/>
<line x1="439.3" y1="783.74" x2="442.5" y2="783.74" stroke="#222" stroke-width="0.9"/>
<line x1="439.3" y1="775.61" x2="442.5" y2="775.61" stroke="#222" stroke-width="0.9"/>
<line x1="439.3" y1="769.3" x2="442.5" y2="769.3" stroke="#222" stroke-width="0.9"/>
<line x1="439.3" y1="764.14" x2="442.5" y2="764.14" stroke="#222" stroke-width="0.9"/>
<line x1="439.3" y1="759.78" x2="442.5" y2="759.78" stroke="#222" stroke-width="0.9"/>
<line x1="439.3" y1="756.01" x2="442.5" y2="756.01" stroke="#222" stroke-width="0.9"/>
<line x1="439.3" y1="752.68" x2="442.5" y2="752.68" stroke="#222" stroke-width="0.9"/>
<line x1="439.3" y1="675.02" x2="442.5" y2="675.02" stroke="#222" stroke-width="0.9"/>
<line x1="439" y1="819" x2="442.5" y2="819" stroke="#222" stroke-width="0.9"/>
<line x1="439" y1="821.7" x2="442.5" y2="821.7" stroke="#222" stroke-width="0.9"/>
<line x1="439" y1="825.8" x2="442.5" y2="825.8" stroke="#222" stroke-width="0.9"/>
<line x1="439" y1="829.7" x2="442.5" y2="829.7" stroke="#222" stroke-width="0.9"/>
<line x1="439" y1="833.1" x2="442.5" y2="833.1" stroke="#222" stroke-width="0.9"/>
<line x1="439" y1="836.9" x2="442.5" y2="836.9" stroke="#222" stroke-width="0.9"/>
<line x1="439" y1="841.8" x2="442.5" y2="841.8" stroke="#222" stroke-width="0.9"/>
<line x1="439" y1="846.1" x2="442.5" y2="846.1" stroke="#222" stroke-width="0.9"/>
<line x1="439" y1="863.5" x2="442.5" y2="863.5" stroke="#222" stroke-width="0.9"/>
<line x1="439" y1="868.4" x2="442.5" y2="868.4" stroke="#222" stroke-width="0.9"/>
<line x1="439" y1="872.2" x2="442.5" y2="872.2" stroke="#222" stroke-width="0.9"/>
<line x1="439" y1="880.9" x2="442.5" y2="880.9" stroke="#222" stroke-width="0.9"/>
<line x1="439" y1="884.8" x2="442.5" y2="884.8" stroke="#222" stroke-width="0.9"/>
<line x1="439" y1="887.7" x2="442.5" y2="887.7" stroke="#222" stroke-width="0.9"/>
<line x1="439" y1="890.6" x2="442.5" y2="890.6" stroke="#222" stroke-width="0.9"/>
<line x1="436.5" y1="877.1" x2="442.5" y2="877.1" stroke="#222" stroke-width="0.9"/>
<line x1="436.5" y1="893.4" x2="442.5" y2="893.4" stroke="#222" stroke-width="0.9"/>
<line x1="438" y1="850.1" x2="442.5" y2="850.1" stroke="#222" stroke-width="0.8"/>
<line x1="438" y1="851.7" x2="442.5" y2="851.7" stroke="#222" stroke-width="0.8"/>
<line x1="438" y1="853.3" x2="442.5" y2="853.3" stroke="#222" stroke-width="0.8"/>
<line x1="438" y1="854.9" x2="442.5" y2="854.9" stroke="#222" stroke-width="0.8"/>
<line x1="438" y1="856.5" x2="442.5" y2="856.5" stroke="#222" stroke-width="0.8"/>
<line x1="438" y1="858.1" x2="442.5" y2="858.1" stroke="#222" stroke-width="0.8"/>
<line x1="438" y1="859.7" x2="442.5" y2="859.7" stroke="#222" stroke-width="0.8"/>
<text x="427" y="694.8" font-size="7.6" text-anchor="end" fill="#222">10<tspan font-size="4.7" dy="-3">5</tspan></text>
<text x="427" y="752.2" font-size="7.6" text-anchor="end" fill="#222">10<tspan font-size="4.7" dy="-3">4</tspan></text>
<text x="427" y="817.3" font-size="7.6" text-anchor="end" fill="#222">10<tspan font-size="4.7" dy="-3">3</tspan></text>
<text x="425" y="856.9" font-size="7.6" text-anchor="end" fill="#222">0</text>
<text x="427" y="895.9" font-size="7.6" text-anchor="end" fill="#222">-10<tspan font-size="4.7" dy="-3">3</tspan></text>
<line x1="443.5" y1="907.8" x2="443.5" y2="914.3" stroke="#222" stroke-width="0.9"/>
<line x1="490.6" y1="907.8" x2="490.6" y2="914.3" stroke="#222" stroke-width="0.9"/>
<line x1="529.8" y1="907.8" x2="529.8" y2="914.3" stroke="#222" stroke-width="0.9"/>
<line x1="598.4" y1="907.8" x2="598.4" y2="914.3" stroke="#222" stroke-width="0.9"/>
<line x1="658.5" y1="907.8" x2="658.5" y2="914.3" stroke="#222" stroke-width="0.9"/>
<line x1="451" y1="907.8" x2="451" y2="911.3" stroke="#222" stroke-width="0.9"/>
<line x1="460.3" y1="907.8" x2="460.3" y2="911.3" stroke="#222" stroke-width="0.9"/>
<line x1="473.4" y1="907.8" x2="473.4" y2="911.3" stroke="#222" stroke-width="0.9"/>
<line x1="547" y1="907.8" x2="547" y2="911.3" stroke="#222" stroke-width="0.9"/>
<line x1="569" y1="907.8" x2="569" y2="911.3" stroke="#222" stroke-width="0.9"/>
<line x1="576.3" y1="907.8" x2="576.3" y2="911.3" stroke="#222" stroke-width="0.9"/>
<line x1="582.9" y1="907.8" x2="582.9" y2="911.3" stroke="#222" stroke-width="0.9"/>
<line x1="587.8" y1="907.8" x2="587.8" y2="911.3" stroke="#222" stroke-width="0.9"/>
<line x1="591.9" y1="907.8" x2="591.9" y2="911.3" stroke="#222" stroke-width="0.9"/>
<line x1="595.1" y1="907.8" x2="595.1" y2="911.3" stroke="#222" stroke-width="0.9"/>
<line x1="618" y1="907.8" x2="618" y2="911.3" stroke="#222" stroke-width="0.9"/>
<line x1="628.6" y1="907.8" x2="628.6" y2="911.3" stroke="#222" stroke-width="0.9"/>
<line x1="635.2" y1="907.8" x2="635.2" y2="911.3" stroke="#222" stroke-width="0.9"/>
<line x1="640.9" y1="907.8" x2="640.9" y2="911.3" stroke="#222" stroke-width="0.9"/>
<line x1="645.8" y1="907.8" x2="645.8" y2="911.3" stroke="#222" stroke-width="0.9"/>
<line x1="649" y1="907.8" x2="649" y2="911.3" stroke="#222" stroke-width="0.9"/>
<line x1="653.1" y1="907.8" x2="653.1" y2="911.3" stroke="#222" stroke-width="0.9"/>
<line x1="655.6" y1="907.8" x2="655.6" y2="911.3" stroke="#222" stroke-width="0.9"/>
<line x1="675.2" y1="907.8" x2="675.2" y2="911.3" stroke="#222" stroke-width="0.9"/>
<line x1="492.8" y1="907.8" x2="492.8" y2="911" stroke="#444" stroke-width="0.7"/>
<line x1="495.1" y1="907.8" x2="495.1" y2="911" stroke="#444" stroke-width="0.7"/>
<line x1="497.4" y1="907.8" x2="497.4" y2="911" stroke="#444" stroke-width="0.7"/>
<line x1="499.7" y1="907.8" x2="499.7" y2="911" stroke="#444" stroke-width="0.7"/>
<line x1="502" y1="907.8" x2="502" y2="911" stroke="#444" stroke-width="0.7"/>
<line x1="504.3" y1="907.8" x2="504.3" y2="911" stroke="#444" stroke-width="0.7"/>
<line x1="506.6" y1="907.8" x2="506.6" y2="911" stroke="#444" stroke-width="0.7"/>
<line x1="508.9" y1="907.8" x2="508.9" y2="911" stroke="#444" stroke-width="0.7"/>
<line x1="511.2" y1="907.8" x2="511.2" y2="911" stroke="#444" stroke-width="0.7"/>
<line x1="513.5" y1="907.8" x2="513.5" y2="911" stroke="#444" stroke-width="0.7"/>
<line x1="515.8" y1="907.8" x2="515.8" y2="911" stroke="#444" stroke-width="0.7"/>
<line x1="518.1" y1="907.8" x2="518.1" y2="911" stroke="#444" stroke-width="0.7"/>
<line x1="520.4" y1="907.8" x2="520.4" y2="911" stroke="#444" stroke-width="0.7"/>
<line x1="522.7" y1="907.8" x2="522.7" y2="911" stroke="#444" stroke-width="0.7"/>
<line x1="525" y1="907.8" x2="525" y2="911" stroke="#444" stroke-width="0.7"/>
<line x1="527.3" y1="907.8" x2="527.3" y2="911" stroke="#444" stroke-width="0.7"/>
<line x1="508.3" y1="907.8" x2="508.3" y2="914.3" stroke="#000" stroke-width="0.9"/>
<line x1="509.1" y1="907.8" x2="509.1" y2="914.3" stroke="#000" stroke-width="0.9"/>
<line x1="509.9" y1="907.8" x2="509.9" y2="914.3" stroke="#000" stroke-width="0.9"/>
<line x1="510.7" y1="907.8" x2="510.7" y2="914.3" stroke="#000" stroke-width="0.9"/>
<line x1="511.5" y1="907.8" x2="511.5" y2="914.3" stroke="#000" stroke-width="0.9"/>
<text x="510.2" y="928.1" font-size="8.2" text-anchor="middle" fill="#222">0</text>
<text x="596.4" y="928.1" font-size="8.2" text-anchor="middle" fill="#222">10<tspan font-size="5.1" dy="-3">4</tspan></text>
<text x="656.8" y="928.1" font-size="8.2" text-anchor="middle" fill="#222">10<tspan font-size="5.1" dy="-3">5</tspan></text>
<rect x="442.5" y="670.1" width="238.8" height="237.7" fill="none" stroke="#3a3a3a" stroke-width="1.1"/>
<line x1="556.4" y1="670.1" x2="556.4" y2="907.8" stroke="#333" stroke-width="1.1"/>
<line x1="442.5" y1="825.4" x2="681.3" y2="825.4" stroke="#444" stroke-width="1.1"/>
<ellipse cx="518.2" cy="847.6" rx="5" ry="3.6" fill="none" stroke="#111" stroke-width="1"/>
<ellipse cx="518.53" cy="847.52" rx="7.83" ry="5.94" fill="none" stroke="#111" stroke-width="1"/>
<ellipse cx="518.85" cy="847.45" rx="10.28" ry="7.97" fill="none" stroke="#111" stroke-width="1"/>
<ellipse cx="519.17" cy="847.38" rx="12.61" ry="9.89" fill="none" stroke="#111" stroke-width="1"/>
<ellipse cx="519.5" cy="847.3" rx="14.86" ry="11.75" fill="none" stroke="#111" stroke-width="1"/>
<ellipse cx="519.83" cy="847.23" rx="17.05" ry="13.56" fill="none" stroke="#111" stroke-width="1"/>
<ellipse cx="520.15" cy="847.15" rx="19.2" ry="15.33" fill="none" stroke="#111" stroke-width="1"/>
<ellipse cx="520.47" cy="847.08" rx="21.32" ry="17.08" fill="none" stroke="#111" stroke-width="1"/>
<ellipse cx="520.8" cy="847" rx="23.4" ry="18.8" fill="none" stroke="#111" stroke-width="1"/>
<rect x="525.32" y="819.09" width="3" height="3" fill="#111"/>
<rect x="526.15" y="820.85" width="3" height="3" fill="#111"/>
<rect x="540.5" y="816.38" width="3" height="3" fill="#111"/>
<rect x="527.32" y="826.5" width="3" height="3" fill="#111"/>
<rect x="532.03" y="828.5" width="3" height="3" fill="#111"/>
<rect x="542.03" y="829.68" width="3" height="3" fill="#111"/>
<rect x="551.44" y="825.91" width="3" height="3" fill="#111"/>
<rect x="575.91" y="826.5" width="3" height="3" fill="#111"/>
<rect x="575.91" y="832.62" width="3" height="3" fill="#111"/>
<rect x="542.62" y="838.5" width="3" height="3" fill="#111"/>
<rect x="543.56" y="842.97" width="3" height="3" fill="#111"/>
<rect x="549.09" y="839.91" width="3" height="3" fill="#111"/>
<rect x="552.03" y="839.91" width="3" height="3" fill="#111"/>
<rect x="550.5" y="852.26" width="3" height="3" fill="#111"/>
<rect x="630.03" y="849.44" width="3" height="3" fill="#111"/>
<rect x="491.68" y="840.85" width="3" height="3" fill="#111"/>
<rect x="495.32" y="852.26" width="3" height="3" fill="#111"/>
<text x="446.4" y="697.6" font-size="25.4">0.76</text>
<text x="674.9" y="697.6" font-size="25.4" text-anchor="end">0</text>
<text x="671.5" y="895.5" font-size="25.4" text-anchor="end">0.76</text>
<line x1="721.5" y1="692.5" x2="727.5" y2="692.5" stroke="#222" stroke-width="0.9"/>
<line x1="721.5" y1="749.9" x2="727.5" y2="749.9" stroke="#222" stroke-width="0.9"/>
<line x1="721.5" y1="815" x2="727.5" y2="815" stroke="#222" stroke-width="0.9"/>
<line x1="724.3" y1="732.62" x2="727.5" y2="732.62" stroke="#222" stroke-width="0.9"/>
<line x1="724.3" y1="722.51" x2="727.5" y2="722.51" stroke="#222" stroke-width="0.9"/>
<line x1="724.3" y1="715.34" x2="727.5" y2="715.34" stroke="#222" stroke-width="0.9"/>
<line x1="724.3" y1="709.78" x2="727.5" y2="709.78" stroke="#222" stroke-width="0.9"/>
<line x1="724.3" y1="705.23" x2="727.5" y2="705.23" stroke="#222" stroke-width="0.9"/>
<line x1="724.3" y1="701.39" x2="727.5" y2="701.39" stroke="#222" stroke-width="0.9"/>
<line x1="724.3" y1="698.06" x2="727.5" y2="698.06" stroke="#222" stroke-width="0.9"/>
<line x1="724.3" y1="695.13" x2="727.5" y2="695.13" stroke="#222" stroke-width="0.9"/>
<line x1="724.3" y1="795.4" x2="727.5" y2="795.4" stroke="#222" stroke-width="0.9"/>
<line x1="724.3" y1="783.94" x2="727.5" y2="783.94" stroke="#222" stroke-width="0.9"/>
<line x1="724.3" y1="775.81" x2="727.5" y2="775.81" stroke="#222" stroke-width="0.9"/>
<line x1="724.3" y1="769.5" x2="727.5" y2="769.5" stroke="#222" stroke-width="0.9"/>
<line x1="724.3" y1="764.34" x2="727.5" y2="764.34" stroke="#222" stroke-width="0.9"/>
<line x1="724.3" y1="759.98" x2="727.5" y2="759.98" stroke="#222" stroke-width="0.9"/>
<line x1="724.3" y1="756.21" x2="727.5" y2="756.21" stroke="#222" stroke-width="0.9"/>
<line x1="724.3" y1="752.88" x2="727.5" y2="752.88" stroke="#222" stroke-width="0.9"/>
<line x1="724.3" y1="675.22" x2="727.5" y2="675.22" stroke="#222" stroke-width="0.9"/>
<line x1="724" y1="819.2" x2="727.5" y2="819.2" stroke="#222" stroke-width="0.9"/>
<line x1="724" y1="821.9" x2="727.5" y2="821.9" stroke="#222" stroke-width="0.9"/>
<line x1="724" y1="826" x2="727.5" y2="826" stroke="#222" stroke-width="0.9"/>
<line x1="724" y1="829.9" x2="727.5" y2="829.9" stroke="#222" stroke-width="0.9"/>
<line x1="724" y1="833.3" x2="727.5" y2="833.3" stroke="#222" stroke-width="0.9"/>
<line x1="724" y1="837.1" x2="727.5" y2="837.1" stroke="#222" stroke-width="0.9"/>
<line x1="724" y1="842" x2="727.5" y2="842" stroke="#222" stroke-width="0.9"/>
<line x1="724" y1="846.3" x2="727.5" y2="846.3" stroke="#222" stroke-width="0.9"/>
<line x1="724" y1="863.7" x2="727.5" y2="863.7" stroke="#222" stroke-width="0.9"/>
<line x1="724" y1="868.6" x2="727.5" y2="868.6" stroke="#222" stroke-width="0.9"/>
<line x1="724" y1="872.4" x2="727.5" y2="872.4" stroke="#222" stroke-width="0.9"/>
<line x1="724" y1="881.1" x2="727.5" y2="881.1" stroke="#222" stroke-width="0.9"/>
<line x1="724" y1="885" x2="727.5" y2="885" stroke="#222" stroke-width="0.9"/>
<line x1="724" y1="887.9" x2="727.5" y2="887.9" stroke="#222" stroke-width="0.9"/>
<line x1="724" y1="890.8" x2="727.5" y2="890.8" stroke="#222" stroke-width="0.9"/>
<line x1="721.5" y1="877.3" x2="727.5" y2="877.3" stroke="#222" stroke-width="0.9"/>
<line x1="721.5" y1="893.6" x2="727.5" y2="893.6" stroke="#222" stroke-width="0.9"/>
<line x1="723" y1="850.3" x2="727.5" y2="850.3" stroke="#222" stroke-width="0.8"/>
<line x1="723" y1="851.9" x2="727.5" y2="851.9" stroke="#222" stroke-width="0.8"/>
<line x1="723" y1="853.5" x2="727.5" y2="853.5" stroke="#222" stroke-width="0.8"/>
<line x1="723" y1="855.1" x2="727.5" y2="855.1" stroke="#222" stroke-width="0.8"/>
<line x1="723" y1="856.7" x2="727.5" y2="856.7" stroke="#222" stroke-width="0.8"/>
<line x1="723" y1="858.3" x2="727.5" y2="858.3" stroke="#222" stroke-width="0.8"/>
<line x1="723" y1="859.9" x2="727.5" y2="859.9" stroke="#222" stroke-width="0.8"/>
<text x="712" y="695" font-size="7.6" text-anchor="end" fill="#222">10<tspan font-size="4.7" dy="-3">5</tspan></text>
<text x="712" y="752.4" font-size="7.6" text-anchor="end" fill="#222">10<tspan font-size="4.7" dy="-3">4</tspan></text>
<text x="712" y="817.5" font-size="7.6" text-anchor="end" fill="#222">10<tspan font-size="4.7" dy="-3">3</tspan></text>
<text x="710" y="857.1" font-size="7.6" text-anchor="end" fill="#222">0</text>
<text x="712" y="896.1" font-size="7.6" text-anchor="end" fill="#222">-10<tspan font-size="4.7" dy="-3">3</tspan></text>
<line x1="728.5" y1="907.6" x2="728.5" y2="914.1" stroke="#222" stroke-width="0.9"/>
<line x1="775.6" y1="907.6" x2="775.6" y2="914.1" stroke="#222" stroke-width="0.9"/>
<line x1="814.8" y1="907.6" x2="814.8" y2="914.1" stroke="#222" stroke-width="0.9"/>
<line x1="883.4" y1="907.6" x2="883.4" y2="914.1" stroke="#222" stroke-width="0.9"/>
<line x1="943.5" y1="907.6" x2="943.5" y2="914.1" stroke="#222" stroke-width="0.9"/>
<line x1="736" y1="907.6" x2="736" y2="911.1" stroke="#222" stroke-width="0.9"/>
<line x1="745.3" y1="907.6" x2="745.3" y2="911.1" stroke="#222" stroke-width="0.9"/>
<line x1="758.4" y1="907.6" x2="758.4" y2="911.1" stroke="#222" stroke-width="0.9"/>
<line x1="832" y1="907.6" x2="832" y2="911.1" stroke="#222" stroke-width="0.9"/>
<line x1="854" y1="907.6" x2="854" y2="911.1" stroke="#222" stroke-width="0.9"/>
<line x1="861.3" y1="907.6" x2="861.3" y2="911.1" stroke="#222" stroke-width="0.9"/>
<line x1="867.9" y1="907.6" x2="867.9" y2="911.1" stroke="#222" stroke-width="0.9"/>
<line x1="872.8" y1="907.6" x2="872.8" y2="911.1" stroke="#222" stroke-width="0.9"/>
<line x1="876.9" y1="907.6" x2="876.9" y2="911.1" stroke="#222" stroke-width="0.9"/>
<line x1="880.1" y1="907.6" x2="880.1" y2="911.1" stroke="#222" stroke-width="0.9"/>
<line x1="903" y1="907.6" x2="903" y2="911.1" stroke="#222" stroke-width="0.9"/>
<line x1="913.6" y1="907.6" x2="913.6" y2="911.1" stroke="#222" stroke-width="0.9"/>
<line x1="920.2" y1="907.6" x2="920.2" y2="911.1" stroke="#222" stroke-width="0.9"/>
<line x1="925.9" y1="907.6" x2="925.9" y2="911.1" stroke="#222" stroke-width="0.9"/>
<line x1="930.8" y1="907.6" x2="930.8" y2="911.1" stroke="#222" stroke-width="0.9"/>
<line x1="934" y1="907.6" x2="934" y2="911.1" stroke="#222" stroke-width="0.9"/>
<line x1="938.1" y1="907.6" x2="938.1" y2="911.1" stroke="#222" stroke-width="0.9"/>
<line x1="940.6" y1="907.6" x2="940.6" y2="911.1" stroke="#222" stroke-width="0.9"/>
<line x1="960.2" y1="907.6" x2="960.2" y2="911.1" stroke="#222" stroke-width="0.9"/>
<line x1="777.8" y1="907.6" x2="777.8" y2="910.8" stroke="#444" stroke-width="0.7"/>
<line x1="780.1" y1="907.6" x2="780.1" y2="910.8" stroke="#444" stroke-width="0.7"/>
<line x1="782.4" y1="907.6" x2="782.4" y2="910.8" stroke="#444" stroke-width="0.7"/>
<line x1="784.7" y1="907.6" x2="784.7" y2="910.8" stroke="#444" stroke-width="0.7"/>
<line x1="787" y1="907.6" x2="787" y2="910.8" stroke="#444" stroke-width="0.7"/>
<line x1="789.3" y1="907.6" x2="789.3" y2="910.8" stroke="#444" stroke-width="0.7"/>
<line x1="791.6" y1="907.6" x2="791.6" y2="910.8" stroke="#444" stroke-width="0.7"/>
<line x1="793.9" y1="907.6" x2="793.9" y2="910.8" stroke="#444" stroke-width="0.7"/>
<line x1="796.2" y1="907.6" x2="796.2" y2="910.8" stroke="#444" stroke-width="0.7"/>
<line x1="798.5" y1="907.6" x2="798.5" y2="910.8" stroke="#444" stroke-width="0.7"/>
<line x1="800.8" y1="907.6" x2="800.8" y2="910.8" stroke="#444" stroke-width="0.7"/>
<line x1="803.1" y1="907.6" x2="803.1" y2="910.8" stroke="#444" stroke-width="0.7"/>
<line x1="805.4" y1="907.6" x2="805.4" y2="910.8" stroke="#444" stroke-width="0.7"/>
<line x1="807.7" y1="907.6" x2="807.7" y2="910.8" stroke="#444" stroke-width="0.7"/>
<line x1="810" y1="907.6" x2="810" y2="910.8" stroke="#444" stroke-width="0.7"/>
<line x1="812.3" y1="907.6" x2="812.3" y2="910.8" stroke="#444" stroke-width="0.7"/>
<line x1="793.3" y1="907.6" x2="793.3" y2="914.1" stroke="#000" stroke-width="0.9"/>
<line x1="794.1" y1="907.6" x2="794.1" y2="914.1" stroke="#000" stroke-width="0.9"/>
<line x1="794.9" y1="907.6" x2="794.9" y2="914.1" stroke="#000" stroke-width="0.9"/>
<line x1="795.7" y1="907.6" x2="795.7" y2="914.1" stroke="#000" stroke-width="0.9"/>
<line x1="796.5" y1="907.6" x2="796.5" y2="914.1" stroke="#000" stroke-width="0.9"/>
<text x="795.2" y="927.9" font-size="8.2" text-anchor="middle" fill="#222">0</text>
<text x="881.4" y="927.9" font-size="8.2" text-anchor="middle" fill="#222">10<tspan font-size="5.1" dy="-3">4</tspan></text>
<text x="941.8" y="927.9" font-size="8.2" text-anchor="middle" fill="#222">10<tspan font-size="5.1" dy="-3">5</tspan></text>
<rect x="727.5" y="670.3" width="237.3" height="237.3" fill="none" stroke="#3a3a3a" stroke-width="1.1"/>
<line x1="840.7" y1="670.3" x2="840.7" y2="907.6" stroke="#333" stroke-width="1.1"/>
<line x1="727.5" y1="825" x2="964.8" y2="825" stroke="#444" stroke-width="1.1"/>
<ellipse cx="804.5" cy="843.5" rx="5.8" ry="4.6" transform="rotate(-0 804.5 843.5)" fill="none" stroke="#111" stroke-width="1"/>
<ellipse cx="804.75" cy="843.04" rx="9.19" ry="7.68" transform="rotate(-2.75 804.75 843.04)" fill="none" stroke="#111" stroke-width="1"/>
<ellipse cx="805" cy="842.58" rx="12.12" ry="10.34" transform="rotate(-5.5 805 842.58)" fill="none" stroke="#111" stroke-width="1"/>
<ellipse cx="805.25" cy="842.11" rx="14.9" ry="12.87" transform="rotate(-8.25 805.25 842.11)" fill="none" stroke="#111" stroke-width="1"/>
<ellipse cx="805.5" cy="841.65" rx="17.59" ry="15.32" transform="rotate(-11 805.5 841.65)" fill="none" stroke="#111" stroke-width="1"/>
<ellipse cx="805.75" cy="841.19" rx="20.21" ry="17.7" transform="rotate(-13.75 805.75 841.19)" fill="none" stroke="#111" stroke-width="1"/>
<ellipse cx="806" cy="840.72" rx="22.78" ry="20.04" transform="rotate(-16.5 806 840.72)" fill="none" stroke="#111" stroke-width="1"/>
<ellipse cx="806.25" cy="840.26" rx="25.31" ry="22.34" transform="rotate(-19.25 806.25 840.26)" fill="none" stroke="#111" stroke-width="1"/>
<ellipse cx="806.5" cy="839.8" rx="27.8" ry="24.6" transform="rotate(-22 806.5 839.8)" fill="none" stroke="#111" stroke-width="1"/>
<rect x="944.25" y="714.84" width="3" height="3" fill="#111"/>
<rect x="896.67" y="743.95" width="3" height="3" fill="#111"/>
<rect x="903.76" y="743.95" width="3" height="3" fill="#111"/>
<rect x="922.79" y="750.48" width="3" height="3" fill="#111"/>
<rect x="849.66" y="759.81" width="3" height="3" fill="#111"/>
<rect x="919.43" y="761.67" width="3" height="3" fill="#111"/>
<rect x="946.86" y="763.54" width="3" height="3" fill="#111"/>
<rect x="822.42" y="777.34" width="3" height="3" fill="#111"/>
<rect x="847.23" y="795.25" width="3" height="3" fill="#111"/>
<rect x="854.32" y="797.12" width="3" height="3" fill="#111"/>
<rect x="820.55" y="796.93" width="3" height="3" fill="#111"/>
<rect x="828.01" y="796" width="3" height="3" fill="#111"/>
<rect x="831" y="799.73" width="3" height="3" fill="#111"/>
<rect x="800.03" y="800.85" width="3" height="3" fill="#111"/>
<rect x="790.7" y="803.46" width="3" height="3" fill="#111"/>
<rect x="788.09" y="808.31" width="3" height="3" fill="#111"/>
<rect x="811.22" y="803.46" width="3" height="3" fill="#111"/>
<rect x="814.96" y="804.58" width="3" height="3" fill="#111"/>
<rect x="819.81" y="807.19" width="3" height="3" fill="#111"/>
<rect x="824.84" y="805.33" width="3" height="3" fill="#111"/>
<rect x="801.9" y="810.18" width="3" height="3" fill="#111"/>
<rect x="781.37" y="816.71" width="3" height="3" fill="#111"/>
<rect x="788.09" y="813.91" width="3" height="3" fill="#111"/>
<rect x="826.71" y="813.35" width="3" height="3" fill="#111"/>
<rect x="836.04" y="813.91" width="3" height="3" fill="#111"/>
<rect x="879.51" y="809.99" width="3" height="3" fill="#111"/>
<rect x="885.1" y="808.31" width="3" height="3" fill="#111"/>
<rect x="907.49" y="809.25" width="3" height="3" fill="#111"/>
<rect x="877.64" y="827.34" width="3" height="3" fill="#111"/>
<rect x="851.34" y="829.77" width="3" height="3" fill="#111"/>
<rect x="921.49" y="829.77" width="3" height="3" fill="#111"/>
<rect x="917.19" y="832.94" width="3" height="3" fill="#111"/>
<rect x="885.1" y="834.43" width="3" height="3" fill="#111"/>
<rect x="891.63" y="838.16" width="3" height="3" fill="#111"/>
<rect x="919.62" y="836.3" width="3" height="3" fill="#111"/>
<rect x="927.08" y="836.3" width="3" height="3" fill="#111"/>
<rect x="879.51" y="840.96" width="3" height="3" fill="#111"/>
<rect x="883.99" y="841.9" width="3" height="3" fill="#111"/>
<rect x="899.1" y="843.76" width="3" height="3" fill="#111"/>
<rect x="927.08" y="843.76" width="3" height="3" fill="#111"/>
<rect x="920.55" y="850.29" width="3" height="3" fill="#111"/>
<rect x="927.08" y="853.09" width="3" height="3" fill="#111"/>
<rect x="835.48" y="853.09" width="3" height="3" fill="#111"/>
<rect x="844.81" y="841.9" width="3" height="3" fill="#111"/>
<rect x="840.14" y="834.43" width="3" height="3" fill="#111"/>
<rect x="836.6" y="838.16" width="3" height="3" fill="#111"/>
<rect x="771.11" y="841.9" width="3" height="3" fill="#111"/>
<rect x="779.51" y="833.5" width="3" height="3" fill="#111"/>
<rect x="783.24" y="857.75" width="3" height="3" fill="#111"/>
<rect x="833.24" y="843.76" width="3" height="3" fill="#111"/>
<rect x="832.31" y="824.54" width="3" height="3" fill="#111"/>
<rect x="829.88" y="818.95" width="3" height="3" fill="#111"/>
<rect x="834.17" y="820.81" width="3" height="3" fill="#111"/>
<rect x="822.98" y="802.16" width="3" height="3" fill="#111"/>
<rect x="828.57" y="807.75" width="3" height="3" fill="#111"/>
<rect x="830.44" y="813.35" width="3" height="3" fill="#111"/>
<rect x="806.19" y="807.75" width="3" height="3" fill="#111"/>
<rect x="817.38" y="800.29" width="3" height="3" fill="#111"/>
<rect x="806.34" y="810.79" width="3" height="3" fill="#111"/>
<rect x="808.43" y="807.65" width="3" height="3" fill="#111"/>
<rect x="810.53" y="804.51" width="3" height="3" fill="#111"/>
<rect x="812.62" y="803.47" width="3" height="3" fill="#111"/>
<rect x="814.71" y="804.51" width="3" height="3" fill="#111"/>
<rect x="817.32" y="807.65" width="3" height="3" fill="#111"/>
<rect x="818.89" y="806.08" width="3" height="3" fill="#111"/>
<rect x="820.98" y="803.47" width="3" height="3" fill="#111"/>
<rect x="823.08" y="803.47" width="3" height="3" fill="#111"/>
<rect x="825.17" y="804.51" width="3" height="3" fill="#111"/>
<rect x="827.26" y="806.6" width="3" height="3" fill="#111"/>
<rect x="829.35" y="809.74" width="3" height="3" fill="#111"/>
<rect x="826.21" y="812.88" width="3" height="3" fill="#111"/>
<rect x="827.26" y="816.02" width="3" height="3" fill="#111"/>
<rect x="828.3" y="819.15" width="3" height="3" fill="#111"/>
<rect x="829.35" y="821.25" width="3" height="3" fill="#111"/>
<rect x="831.44" y="824.38" width="3" height="3" fill="#111"/>
<rect x="833.53" y="825.43" width="3" height="3" fill="#111"/>
<rect x="835.62" y="824.38" width="3" height="3" fill="#111"/>
<rect x="837.19" y="820.2" width="3" height="3" fill="#111"/>
<rect x="836.67" y="813.92" width="3" height="3" fill="#111"/>
<rect x="838.76" y="832.75" width="3" height="3" fill="#111"/>
<rect x="839.81" y="835.89" width="3" height="3" fill="#111"/>
<rect x="836.67" y="837.98" width="3" height="3" fill="#111"/>
<rect x="833.53" y="842.16" width="3" height="3" fill="#111"/>
<rect x="832.49" y="845.3" width="3" height="3" fill="#111"/>
<rect x="819.94" y="797.19" width="3" height="3" fill="#111"/>
<rect x="822.03" y="795.1" width="3" height="3" fill="#111"/>
<rect x="827.78" y="795.62" width="3" height="3" fill="#111"/>
<rect x="787.52" y="808.7" width="3" height="3" fill="#111"/>
<rect x="788.57" y="809.74" width="3" height="3" fill="#111"/>
<rect x="779.15" y="833.79" width="3" height="3" fill="#111"/>
<rect x="782.81" y="857.85" width="3" height="3" fill="#111"/>
<rect x="770.79" y="842.16" width="3" height="3" fill="#111"/>
<rect x="789.61" y="822.29" width="3" height="3" fill="#111"/>
<text x="730.7" y="697.6" font-size="25.4">8.92</text>
<text x="955.4" y="697.6" font-size="25.4" text-anchor="end">1.45</text>
<text x="953.9" y="895.5" font-size="25.4" text-anchor="end">2.41</text>
<line x1="151.3" y1="1029.2" x2="157.3" y2="1029.2" stroke="#222" stroke-width="0.9"/>
<line x1="151.3" y1="1086.6" x2="157.3" y2="1086.6" stroke="#222" stroke-width="0.9"/>
<line x1="151.3" y1="1151.7" x2="157.3" y2="1151.7" stroke="#222" stroke-width="0.9"/>
<line x1="154.1" y1="1069.32" x2="157.3" y2="1069.32" stroke="#222" stroke-width="0.9"/>
<line x1="154.1" y1="1059.21" x2="157.3" y2="1059.21" stroke="#222" stroke-width="0.9"/>
<line x1="154.1" y1="1052.04" x2="157.3" y2="1052.04" stroke="#222" stroke-width="0.9"/>
<line x1="154.1" y1="1046.48" x2="157.3" y2="1046.48" stroke="#222" stroke-width="0.9"/>
<line x1="154.1" y1="1041.93" x2="157.3" y2="1041.93" stroke="#222" stroke-width="0.9"/>
<line x1="154.1" y1="1038.09" x2="157.3" y2="1038.09" stroke="#222" stroke-width="0.9"/>
<line x1="154.1" y1="1034.76" x2="157.3" y2="1034.76" stroke="#222" stroke-width="0.9"/>
<line x1="154.1" y1="1031.83" x2="157.3" y2="1031.83" stroke="#222" stroke-width="0.9"/>
<line x1="154.1" y1="1132.1" x2="157.3" y2="1132.1" stroke="#222" stroke-width="0.9"/>
<line x1="154.1" y1="1120.64" x2="157.3" y2="1120.64" stroke="#222" stroke-width="0.9"/>
<line x1="154.1" y1="1112.51" x2="157.3" y2="1112.51" stroke="#222" stroke-width="0.9"/>
<line x1="154.1" y1="1106.2" x2="157.3" y2="1106.2" stroke="#222" stroke-width="0.9"/>
<line x1="154.1" y1="1101.04" x2="157.3" y2="1101.04" stroke="#222" stroke-width="0.9"/>
<line x1="154.1" y1="1096.68" x2="157.3" y2="1096.68" stroke="#222" stroke-width="0.9"/>
<line x1="154.1" y1="1092.91" x2="157.3" y2="1092.91" stroke="#222" stroke-width="0.9"/>
<line x1="154.1" y1="1089.58" x2="157.3" y2="1089.58" stroke="#222" stroke-width="0.9"/>
<line x1="154.1" y1="1011.92" x2="157.3" y2="1011.92" stroke="#222" stroke-width="0.9"/>
<line x1="153.8" y1="1155.9" x2="157.3" y2="1155.9" stroke="#222" stroke-width="0.9"/>
<line x1="153.8" y1="1158.6" x2="157.3" y2="1158.6" stroke="#222" stroke-width="0.9"/>
<line x1="153.8" y1="1162.7" x2="157.3" y2="1162.7" stroke="#222" stroke-width="0.9"/>
<line x1="153.8" y1="1166.6" x2="157.3" y2="1166.6" stroke="#222" stroke-width="0.9"/>
<line x1="153.8" y1="1170" x2="157.3" y2="1170" stroke="#222" stroke-width="0.9"/>
<line x1="153.8" y1="1173.8" x2="157.3" y2="1173.8" stroke="#222" stroke-width="0.9"/>
<line x1="153.8" y1="1178.7" x2="157.3" y2="1178.7" stroke="#222" stroke-width="0.9"/>
<line x1="153.8" y1="1183" x2="157.3" y2="1183" stroke="#222" stroke-width="0.9"/>
<line x1="153.8" y1="1200.4" x2="157.3" y2="1200.4" stroke="#222" stroke-width="0.9"/>
<line x1="153.8" y1="1205.3" x2="157.3" y2="1205.3" stroke="#222" stroke-width="0.9"/>
<line x1="153.8" y1="1209.1" x2="157.3" y2="1209.1" stroke="#222" stroke-width="0.9"/>
<line x1="153.8" y1="1217.8" x2="157.3" y2="1217.8" stroke="#222" stroke-width="0.9"/>
<line x1="153.8" y1="1221.7" x2="157.3" y2="1221.7" stroke="#222" stroke-width="0.9"/>
<line x1="153.8" y1="1224.6" x2="157.3" y2="1224.6" stroke="#222" stroke-width="0.9"/>
<line x1="153.8" y1="1227.5" x2="157.3" y2="1227.5" stroke="#222" stroke-width="0.9"/>
<line x1="151.3" y1="1214" x2="157.3" y2="1214" stroke="#222" stroke-width="0.9"/>
<line x1="151.3" y1="1230.3" x2="157.3" y2="1230.3" stroke="#222" stroke-width="0.9"/>
<line x1="152.8" y1="1187" x2="157.3" y2="1187" stroke="#222" stroke-width="0.8"/>
<line x1="152.8" y1="1188.6" x2="157.3" y2="1188.6" stroke="#222" stroke-width="0.8"/>
<line x1="152.8" y1="1190.2" x2="157.3" y2="1190.2" stroke="#222" stroke-width="0.8"/>
<line x1="152.8" y1="1191.8" x2="157.3" y2="1191.8" stroke="#222" stroke-width="0.8"/>
<line x1="152.8" y1="1193.4" x2="157.3" y2="1193.4" stroke="#222" stroke-width="0.8"/>
<line x1="152.8" y1="1195" x2="157.3" y2="1195" stroke="#222" stroke-width="0.8"/>
<line x1="152.8" y1="1196.6" x2="157.3" y2="1196.6" stroke="#222" stroke-width="0.8"/>
<text x="141.8" y="1031.7" font-size="7.6" text-anchor="end" fill="#222">10<tspan font-size="4.7" dy="-3">5</tspan></text>
<text x="141.8" y="1089.1" font-size="7.6" text-anchor="end" fill="#222">10<tspan font-size="4.7" dy="-3">4</tspan></text>
<text x="141.8" y="1154.2" font-size="7.6" text-anchor="end" fill="#222">10<tspan font-size="4.7" dy="-3">3</tspan></text>
<text x="139.8" y="1193.8" font-size="7.6" text-anchor="end" fill="#222">0</text>
<text x="141.8" y="1232.8" font-size="7.6" text-anchor="end" fill="#222">-10<tspan font-size="4.7" dy="-3">3</tspan></text>
<line x1="157.4" y1="1244.5" x2="157.4" y2="1251" stroke="#222" stroke-width="0.9"/>
<line x1="183.5" y1="1244.5" x2="183.5" y2="1251" stroke="#222" stroke-width="0.9"/>
<line x1="206.4" y1="1244.5" x2="206.4" y2="1251" stroke="#222" stroke-width="0.9"/>
<line x1="259.5" y1="1244.5" x2="259.5" y2="1251" stroke="#222" stroke-width="0.9"/>
<line x1="317" y1="1244.5" x2="317" y2="1251" stroke="#222" stroke-width="0.9"/>
<line x1="371.4" y1="1244.5" x2="371.4" y2="1251" stroke="#222" stroke-width="0.9"/>
<line x1="162.3" y1="1244.5" x2="162.3" y2="1248" stroke="#222" stroke-width="0.9"/>
<line x1="172.1" y1="1244.5" x2="172.1" y2="1248" stroke="#222" stroke-width="0.9"/>
<line x1="216.2" y1="1244.5" x2="216.2" y2="1248" stroke="#222" stroke-width="0.9"/>
<line x1="225.2" y1="1244.5" x2="225.2" y2="1248" stroke="#222" stroke-width="0.9"/>
<line x1="233.3" y1="1244.5" x2="233.3" y2="1248" stroke="#222" stroke-width="0.9"/>
<line x1="244.3" y1="1244.5" x2="244.3" y2="1248" stroke="#222" stroke-width="0.9"/>
<line x1="248.3" y1="1244.5" x2="248.3" y2="1248" stroke="#222" stroke-width="0.9"/>
<line x1="251.3" y1="1244.5" x2="251.3" y2="1248" stroke="#222" stroke-width="0.9"/>
<line x1="254.6" y1="1244.5" x2="254.6" y2="1248" stroke="#222" stroke-width="0.9"/>
<line x1="278.3" y1="1244.5" x2="278.3" y2="1248" stroke="#222" stroke-width="0.9"/>
<line x1="288.1" y1="1244.5" x2="288.1" y2="1248" stroke="#222" stroke-width="0.9"/>
<line x1="294.6" y1="1244.5" x2="294.6" y2="1248" stroke="#222" stroke-width="0.9"/>
<line x1="300.3" y1="1244.5" x2="300.3" y2="1248" stroke="#222" stroke-width="0.9"/>
<line x1="305.2" y1="1244.5" x2="305.2" y2="1248" stroke="#222" stroke-width="0.9"/>
<line x1="309.3" y1="1244.5" x2="309.3" y2="1248" stroke="#222" stroke-width="0.9"/>
<line x1="313.4" y1="1244.5" x2="313.4" y2="1248" stroke="#222" stroke-width="0.9"/>
<line x1="333.8" y1="1244.5" x2="333.8" y2="1248" stroke="#222" stroke-width="0.9"/>
<line x1="343.6" y1="1244.5" x2="343.6" y2="1248" stroke="#222" stroke-width="0.9"/>
<line x1="350.2" y1="1244.5" x2="350.2" y2="1248" stroke="#222" stroke-width="0.9"/>
<line x1="355.1" y1="1244.5" x2="355.1" y2="1248" stroke="#222" stroke-width="0.9"/>
<line x1="360" y1="1244.5" x2="360" y2="1248" stroke="#222" stroke-width="0.9"/>
<line x1="363.2" y1="1244.5" x2="363.2" y2="1248" stroke="#222" stroke-width="0.9"/>
<line x1="366.5" y1="1244.5" x2="366.5" y2="1248" stroke="#222" stroke-width="0.9"/>
<line x1="369" y1="1244.5" x2="369" y2="1248" stroke="#222" stroke-width="0.9"/>
<line x1="387.7" y1="1244.5" x2="387.7" y2="1248" stroke="#222" stroke-width="0.9"/>
<line x1="185.7" y1="1244.5" x2="185.7" y2="1247.7" stroke="#444" stroke-width="0.7"/>
<line x1="188" y1="1244.5" x2="188" y2="1247.7" stroke="#444" stroke-width="0.7"/>
<line x1="190.3" y1="1244.5" x2="190.3" y2="1247.7" stroke="#444" stroke-width="0.7"/>
<line x1="192.6" y1="1244.5" x2="192.6" y2="1247.7" stroke="#444" stroke-width="0.7"/>
<line x1="194.9" y1="1244.5" x2="194.9" y2="1247.7" stroke="#444" stroke-width="0.7"/>
<line x1="197.2" y1="1244.5" x2="197.2" y2="1247.7" stroke="#444" stroke-width="0.7"/>
<line x1="199.5" y1="1244.5" x2="199.5" y2="1247.7" stroke="#444" stroke-width="0.7"/>
<line x1="201.8" y1="1244.5" x2="201.8" y2="1247.7" stroke="#444" stroke-width="0.7"/>
<line x1="204.1" y1="1244.5" x2="204.1" y2="1247.7" stroke="#444" stroke-width="0.7"/>
<line x1="193.3" y1="1244.5" x2="193.3" y2="1251" stroke="#000" stroke-width="0.9"/>
<line x1="194.1" y1="1244.5" x2="194.1" y2="1251" stroke="#000" stroke-width="0.9"/>
<line x1="194.9" y1="1244.5" x2="194.9" y2="1251" stroke="#000" stroke-width="0.9"/>
<line x1="195.7" y1="1244.5" x2="195.7" y2="1251" stroke="#000" stroke-width="0.9"/>
<line x1="196.5" y1="1244.5" x2="196.5" y2="1251" stroke="#000" stroke-width="0.9"/>
<text x="194.9" y="1267.8" font-size="8.2" text-anchor="middle" fill="#222">0</text>
<text x="257.5" y="1267.8" font-size="8.2" text-anchor="middle" fill="#222">10<tspan font-size="5.1" dy="-3">3</tspan></text>
<text x="315.8" y="1267.8" font-size="8.2" text-anchor="middle" fill="#222">10<tspan font-size="5.1" dy="-3">4</tspan></text>
<text x="370.3" y="1267.8" font-size="8.2" text-anchor="middle" fill="#222">10<tspan font-size="5.1" dy="-3">5</tspan></text>
<text x="269.3" y="1259.6" font-size="8.2" fill="#222">3</text>
<rect x="157.3" y="1007" width="238" height="237.5" fill="none" stroke="#3a3a3a" stroke-width="1.1"/>
<line x1="239.2" y1="1007" x2="239.2" y2="1244.5" stroke="#333" stroke-width="1.1"/>
<line x1="157.3" y1="1157.2" x2="395.3" y2="1157.2" stroke="#444" stroke-width="1.1"/>
<ellipse cx="208.1" cy="1183.7" rx="4.3" ry="3.8" fill="none" stroke="#111" stroke-width="1"/>
<ellipse cx="208.24" cy="1183.59" rx="7.13" ry="6.35" fill="none" stroke="#111" stroke-width="1"/>
<ellipse cx="208.39" cy="1183.47" rx="9.58" ry="8.56" fill="none" stroke="#111" stroke-width="1"/>
<ellipse cx="208.53" cy="1183.36" rx="11.9" ry="10.66" fill="none" stroke="#111" stroke-width="1"/>
<ellipse cx="208.67" cy="1183.24" rx="14.15" ry="12.68" fill="none" stroke="#111" stroke-width="1"/>
<ellipse cx="208.81" cy="1183.13" rx="16.34" ry="14.66" fill="none" stroke="#111" stroke-width="1"/>
<ellipse cx="208.96" cy="1183.01" rx="18.49" ry="16.6" fill="none" stroke="#111" stroke-width="1"/>
<ellipse cx="209.1" cy="1182.9" rx="20.6" ry="18.5" fill="none" stroke="#111" stroke-width="1"/>
<rect x="197.25" y="1161.16" width="3" height="3" fill="#111"/>
<rect x="220.46" y="1159.23" width="3" height="3" fill="#111"/>
<rect x="222.95" y="1159.23" width="3" height="3" fill="#111"/>
<rect x="220.46" y="1161.72" width="3" height="3" fill="#111"/>
<rect x="220.46" y="1166.14" width="3" height="3" fill="#111"/>
<rect x="182.32" y="1177.2" width="3" height="3" fill="#111"/>
<rect x="185.08" y="1183.83" width="3" height="3" fill="#111"/>
<rect x="183.43" y="1189.63" width="3" height="3" fill="#111"/>
<rect x="232.07" y="1181.62" width="3" height="3" fill="#111"/>
<rect x="232.9" y="1190.19" width="3" height="3" fill="#111"/>
<rect x="192.55" y="1200.41" width="3" height="3" fill="#111"/>
<rect x="229.86" y="1177.2" width="3" height="3" fill="#111"/>
<rect x="232.62" y="1183.83" width="3" height="3" fill="#111"/>
<text x="161" y="1031.5" font-size="25.4">0</text>
<text x="389.6" y="1031.5" font-size="25.4" text-anchor="end">0</text>
<text x="389.6" y="1229.2" font-size="25.4" text-anchor="end">0</text>
<line x1="435.7" y1="1028.1" x2="441.7" y2="1028.1" stroke="#222" stroke-width="0.9"/>
<line x1="435.7" y1="1085.5" x2="441.7" y2="1085.5" stroke="#222" stroke-width="0.9"/>
<line x1="435.7" y1="1150.6" x2="441.7" y2="1150.6" stroke="#222" stroke-width="0.9"/>
<line x1="438.5" y1="1068.22" x2="441.7" y2="1068.22" stroke="#222" stroke-width="0.9"/>
<line x1="438.5" y1="1058.11" x2="441.7" y2="1058.11" stroke="#222" stroke-width="0.9"/>
<line x1="438.5" y1="1050.94" x2="441.7" y2="1050.94" stroke="#222" stroke-width="0.9"/>
<line x1="438.5" y1="1045.38" x2="441.7" y2="1045.38" stroke="#222" stroke-width="0.9"/>
<line x1="438.5" y1="1040.83" x2="441.7" y2="1040.83" stroke="#222" stroke-width="0.9"/>
<line x1="438.5" y1="1036.99" x2="441.7" y2="1036.99" stroke="#222" stroke-width="0.9"/>
<line x1="438.5" y1="1033.66" x2="441.7" y2="1033.66" stroke="#222" stroke-width="0.9"/>
<line x1="438.5" y1="1030.73" x2="441.7" y2="1030.73" stroke="#222" stroke-width="0.9"/>
<line x1="438.5" y1="1131" x2="441.7" y2="1131" stroke="#222" stroke-width="0.9"/>
<line x1="438.5" y1="1119.54" x2="441.7" y2="1119.54" stroke="#222" stroke-width="0.9"/>
<line x1="438.5" y1="1111.41" x2="441.7" y2="1111.41" stroke="#222" stroke-width="0.9"/>
<line x1="438.5" y1="1105.1" x2="441.7" y2="1105.1" stroke="#222" stroke-width="0.9"/>
<line x1="438.5" y1="1099.94" x2="441.7" y2="1099.94" stroke="#222" stroke-width="0.9"/>
<line x1="438.5" y1="1095.58" x2="441.7" y2="1095.58" stroke="#222" stroke-width="0.9"/>
<line x1="438.5" y1="1091.81" x2="441.7" y2="1091.81" stroke="#222" stroke-width="0.9"/>
<line x1="438.5" y1="1088.48" x2="441.7" y2="1088.48" stroke="#222" stroke-width="0.9"/>
<line x1="438.5" y1="1010.82" x2="441.7" y2="1010.82" stroke="#222" stroke-width="0.9"/>
<line x1="438.2" y1="1154.8" x2="441.7" y2="1154.8" stroke="#222" stroke-width="0.9"/>
<line x1="438.2" y1="1157.5" x2="441.7" y2="1157.5" stroke="#222" stroke-width="0.9"/>
<line x1="438.2" y1="1161.6" x2="441.7" y2="1161.6" stroke="#222" stroke-width="0.9"/>
<line x1="438.2" y1="1165.5" x2="441.7" y2="1165.5" stroke="#222" stroke-width="0.9"/>
<line x1="438.2" y1="1168.9" x2="441.7" y2="1168.9" stroke="#222" stroke-width="0.9"/>
<line x1="438.2" y1="1172.7" x2="441.7" y2="1172.7" stroke="#222" stroke-width="0.9"/>
<line x1="438.2" y1="1177.6" x2="441.7" y2="1177.6" stroke="#222" stroke-width="0.9"/>
<line x1="438.2" y1="1181.9" x2="441.7" y2="1181.9" stroke="#222" stroke-width="0.9"/>
<line x1="438.2" y1="1199.3" x2="441.7" y2="1199.3" stroke="#222" stroke-width="0.9"/>
<line x1="438.2" y1="1204.2" x2="441.7" y2="1204.2" stroke="#222" stroke-width="0.9"/>
<line x1="438.2" y1="1208" x2="441.7" y2="1208" stroke="#222" stroke-width="0.9"/>
<line x1="438.2" y1="1216.7" x2="441.7" y2="1216.7" stroke="#222" stroke-width="0.9"/>
<line x1="438.2" y1="1220.6" x2="441.7" y2="1220.6" stroke="#222" stroke-width="0.9"/>
<line x1="438.2" y1="1223.5" x2="441.7" y2="1223.5" stroke="#222" stroke-width="0.9"/>
<line x1="438.2" y1="1226.4" x2="441.7" y2="1226.4" stroke="#222" stroke-width="0.9"/>
<line x1="435.7" y1="1212.9" x2="441.7" y2="1212.9" stroke="#222" stroke-width="0.9"/>
<line x1="435.7" y1="1229.2" x2="441.7" y2="1229.2" stroke="#222" stroke-width="0.9"/>
<line x1="437.2" y1="1185.9" x2="441.7" y2="1185.9" stroke="#222" stroke-width="0.8"/>
<line x1="437.2" y1="1187.5" x2="441.7" y2="1187.5" stroke="#222" stroke-width="0.8"/>
<line x1="437.2" y1="1189.1" x2="441.7" y2="1189.1" stroke="#222" stroke-width="0.8"/>
<line x1="437.2" y1="1190.7" x2="441.7" y2="1190.7" stroke="#222" stroke-width="0.8"/>
<line x1="437.2" y1="1192.3" x2="441.7" y2="1192.3" stroke="#222" stroke-width="0.8"/>
<line x1="437.2" y1="1193.9" x2="441.7" y2="1193.9" stroke="#222" stroke-width="0.8"/>
<line x1="437.2" y1="1195.5" x2="441.7" y2="1195.5" stroke="#222" stroke-width="0.8"/>
<text x="426.2" y="1030.6" font-size="7.6" text-anchor="end" fill="#222">10<tspan font-size="4.7" dy="-3">5</tspan></text>
<text x="426.2" y="1088" font-size="7.6" text-anchor="end" fill="#222">10<tspan font-size="4.7" dy="-3">4</tspan></text>
<text x="426.2" y="1153.1" font-size="7.6" text-anchor="end" fill="#222">10<tspan font-size="4.7" dy="-3">3</tspan></text>
<text x="424.2" y="1192.7" font-size="7.6" text-anchor="end" fill="#222">0</text>
<text x="426.2" y="1231.7" font-size="7.6" text-anchor="end" fill="#222">-10<tspan font-size="4.7" dy="-3">3</tspan></text>
<line x1="441.8" y1="1244" x2="441.8" y2="1250.5" stroke="#222" stroke-width="0.9"/>
<line x1="467.9" y1="1244" x2="467.9" y2="1250.5" stroke="#222" stroke-width="0.9"/>
<line x1="490.8" y1="1244" x2="490.8" y2="1250.5" stroke="#222" stroke-width="0.9"/>
<line x1="543.9" y1="1244" x2="543.9" y2="1250.5" stroke="#222" stroke-width="0.9"/>
<line x1="601.4" y1="1244" x2="601.4" y2="1250.5" stroke="#222" stroke-width="0.9"/>
<line x1="655.8" y1="1244" x2="655.8" y2="1250.5" stroke="#222" stroke-width="0.9"/>
<line x1="446.7" y1="1244" x2="446.7" y2="1247.5" stroke="#222" stroke-width="0.9"/>
<line x1="456.5" y1="1244" x2="456.5" y2="1247.5" stroke="#222" stroke-width="0.9"/>
<line x1="500.6" y1="1244" x2="500.6" y2="1247.5" stroke="#222" stroke-width="0.9"/>
<line x1="509.6" y1="1244" x2="509.6" y2="1247.5" stroke="#222" stroke-width="0.9"/>
<line x1="517.7" y1="1244" x2="517.7" y2="1247.5" stroke="#222" stroke-width="0.9"/>
<line x1="528.7" y1="1244" x2="528.7" y2="1247.5" stroke="#222" stroke-width="0.9"/>
<line x1="532.7" y1="1244" x2="532.7" y2="1247.5" stroke="#222" stroke-width="0.9"/>
<line x1="535.7" y1="1244" x2="535.7" y2="1247.5" stroke="#222" stroke-width="0.9"/>
<line x1="539" y1="1244" x2="539" y2="1247.5" stroke="#222" stroke-width="0.9"/>
<line x1="562.7" y1="1244" x2="562.7" y2="1247.5" stroke="#222" stroke-width="0.9"/>
<line x1="572.5" y1="1244" x2="572.5" y2="1247.5" stroke="#222" stroke-width="0.9"/>
<line x1="579" y1="1244" x2="579" y2="1247.5" stroke="#222" stroke-width="0.9"/>
<line x1="584.7" y1="1244" x2="584.7" y2="1247.5" stroke="#222" stroke-width="0.9"/>
<line x1="589.6" y1="1244" x2="589.6" y2="1247.5" stroke="#222" stroke-width="0.9"/>
<line x1="593.7" y1="1244" x2="593.7" y2="1247.5" stroke="#222" stroke-width="0.9"/>
<line x1="597.8" y1="1244" x2="597.8" y2="1247.5" stroke="#222" stroke-width="0.9"/>
<line x1="618.2" y1="1244" x2="618.2" y2="1247.5" stroke="#222" stroke-width="0.9"/>
<line x1="628" y1="1244" x2="628" y2="1247.5" stroke="#222" stroke-width="0.9"/>
<line x1="634.6" y1="1244" x2="634.6" y2="1247.5" stroke="#222" stroke-width="0.9"/>
<line x1="639.5" y1="1244" x2="639.5" y2="1247.5" stroke="#222" stroke-width="0.9"/>
<line x1="644.4" y1="1244" x2="644.4" y2="1247.5" stroke="#222" stroke-width="0.9"/>
<line x1="647.6" y1="1244" x2="647.6" y2="1247.5" stroke="#222" stroke-width="0.9"/>
<line x1="650.9" y1="1244" x2="650.9" y2="1247.5" stroke="#222" stroke-width="0.9"/>
<line x1="653.4" y1="1244" x2="653.4" y2="1247.5" stroke="#222" stroke-width="0.9"/>
<line x1="672.1" y1="1244" x2="672.1" y2="1247.5" stroke="#222" stroke-width="0.9"/>
<line x1="470.1" y1="1244" x2="470.1" y2="1247.2" stroke="#444" stroke-width="0.7"/>
<line x1="472.4" y1="1244" x2="472.4" y2="1247.2" stroke="#444" stroke-width="0.7"/>
<line x1="474.7" y1="1244" x2="474.7" y2="1247.2" stroke="#444" stroke-width="0.7"/>
<line x1="477" y1="1244" x2="477" y2="1247.2" stroke="#444" stroke-width="0.7"/>
<line x1="479.3" y1="1244" x2="479.3" y2="1247.2" stroke="#444" stroke-width="0.7"/>
<line x1="481.6" y1="1244" x2="481.6" y2="1247.2" stroke="#444" stroke-width="0.7"/>
<line x1="483.9" y1="1244" x2="483.9" y2="1247.2" stroke="#444" stroke-width="0.7"/>
<line x1="486.2" y1="1244" x2="486.2" y2="1247.2" stroke="#444" stroke-width="0.7"/>
<line x1="488.5" y1="1244" x2="488.5" y2="1247.2" stroke="#444" stroke-width="0.7"/>
<line x1="477.7" y1="1244" x2="477.7" y2="1250.5" stroke="#000" stroke-width="0.9"/>
<line x1="478.5" y1="1244" x2="478.5" y2="1250.5" stroke="#000" stroke-width="0.9"/>
<line x1="479.3" y1="1244" x2="479.3" y2="1250.5" stroke="#000" stroke-width="0.9"/>
<line x1="480.1" y1="1244" x2="480.1" y2="1250.5" stroke="#000" stroke-width="0.9"/>
<line x1="480.9" y1="1244" x2="480.9" y2="1250.5" stroke="#000" stroke-width="0.9"/>
<text x="479.3" y="1267.3" font-size="8.2" text-anchor="middle" fill="#222">0</text>
<text x="541.9" y="1267.3" font-size="8.2" text-anchor="middle" fill="#222">10<tspan font-size="5.1" dy="-3">3</tspan></text>
<text x="600.2" y="1267.3" font-size="8.2" text-anchor="middle" fill="#222">10<tspan font-size="5.1" dy="-3">4</tspan></text>
<text x="654.7" y="1267.3" font-size="8.2" text-anchor="middle" fill="#222">10<tspan font-size="5.1" dy="-3">5</tspan></text>
<rect x="441.7" y="1005.9" width="238.8" height="238.1" fill="none" stroke="#3a3a3a" stroke-width="1.1"/>
<line x1="523.4" y1="1005.9" x2="523.4" y2="1244" stroke="#333" stroke-width="1.1"/>
<line x1="441.7" y1="1157.1" x2="680.5" y2="1157.1" stroke="#444" stroke-width="1.1"/>
<ellipse cx="492.4" cy="1182.9" rx="4.9" ry="4.3" fill="none" stroke="#111" stroke-width="1"/>
<ellipse cx="492.43" cy="1182.89" rx="7.83" ry="6.8" fill="none" stroke="#111" stroke-width="1"/>
<ellipse cx="492.46" cy="1182.87" rx="10.37" ry="8.96" fill="none" stroke="#111" stroke-width="1"/>
<ellipse cx="492.49" cy="1182.86" rx="12.78" ry="11.02" fill="none" stroke="#111" stroke-width="1"/>
<ellipse cx="492.51" cy="1182.84" rx="15.11" ry="13" fill="none" stroke="#111" stroke-width="1"/>
<ellipse cx="492.54" cy="1182.83" rx="17.38" ry="14.94" fill="none" stroke="#111" stroke-width="1"/>
<ellipse cx="492.57" cy="1182.81" rx="19.61" ry="16.83" fill="none" stroke="#111" stroke-width="1"/>
<ellipse cx="492.6" cy="1182.8" rx="21.8" ry="18.7" fill="none" stroke="#111" stroke-width="1"/>
<rect x="489.68" y="1152.32" width="3" height="3" fill="#111"/>
<rect x="487.03" y="1155.26" width="3" height="3" fill="#111"/>
<rect x="506.74" y="1157.32" width="3" height="3" fill="#111"/>
<rect x="492.62" y="1161.44" width="3" height="3" fill="#111"/>
<rect x="476.44" y="1164.38" width="3" height="3" fill="#111"/>
<rect x="503.79" y="1162.62" width="3" height="3" fill="#111"/>
<rect x="509.38" y="1164.68" width="3" height="3" fill="#111"/>
<rect x="515.85" y="1173.79" width="3" height="3" fill="#111"/>
<rect x="526.44" y="1171.15" width="3" height="3" fill="#111"/>
<rect x="514.97" y="1184.38" width="3" height="3" fill="#111"/>
<rect x="470.56" y="1176.15" width="3" height="3" fill="#111"/>
<rect x="463.5" y="1187.32" width="3" height="3" fill="#111"/>
<text x="445.2" y="1029.8" font-size="25.4">0.25</text>
<text x="674.2" y="1029.8" font-size="25.4" text-anchor="end">0</text>
<text x="671.1" y="1228.7" font-size="25.4" text-anchor="end">0.25</text>
<line x1="720.8" y1="1028.1" x2="726.8" y2="1028.1" stroke="#222" stroke-width="0.9"/>
<line x1="720.8" y1="1085.5" x2="726.8" y2="1085.5" stroke="#222" stroke-width="0.9"/>
<line x1="720.8" y1="1150.6" x2="726.8" y2="1150.6" stroke="#222" stroke-width="0.9"/>
<line x1="723.6" y1="1068.22" x2="726.8" y2="1068.22" stroke="#222" stroke-width="0.9"/>
<line x1="723.6" y1="1058.11" x2="726.8" y2="1058.11" stroke="#222" stroke-width="0.9"/>
<line x1="723.6" y1="1050.94" x2="726.8" y2="1050.94" stroke="#222" stroke-width="0.9"/>
<line x1="723.6" y1="1045.38" x2="726.8" y2="1045.38" stroke="#222" stroke-width="0.9"/>
<line x1="723.6" y1="1040.83" x2="726.8" y2="1040.83" stroke="#222" stroke-width="0.9"/>
<line x1="723.6" y1="1036.99" x2="726.8" y2="1036.99" stroke="#222" stroke-width="0.9"/>
<line x1="723.6" y1="1033.66" x2="726.8" y2="1033.66" stroke="#222" stroke-width="0.9"/>
<line x1="723.6" y1="1030.73" x2="726.8" y2="1030.73" stroke="#222" stroke-width="0.9"/>
<line x1="723.6" y1="1131" x2="726.8" y2="1131" stroke="#222" stroke-width="0.9"/>
<line x1="723.6" y1="1119.54" x2="726.8" y2="1119.54" stroke="#222" stroke-width="0.9"/>
<line x1="723.6" y1="1111.41" x2="726.8" y2="1111.41" stroke="#222" stroke-width="0.9"/>
<line x1="723.6" y1="1105.1" x2="726.8" y2="1105.1" stroke="#222" stroke-width="0.9"/>
<line x1="723.6" y1="1099.94" x2="726.8" y2="1099.94" stroke="#222" stroke-width="0.9"/>
<line x1="723.6" y1="1095.58" x2="726.8" y2="1095.58" stroke="#222" stroke-width="0.9"/>
<line x1="723.6" y1="1091.81" x2="726.8" y2="1091.81" stroke="#222" stroke-width="0.9"/>
<line x1="723.6" y1="1088.48" x2="726.8" y2="1088.48" stroke="#222" stroke-width="0.9"/>
<line x1="723.6" y1="1010.82" x2="726.8" y2="1010.82" stroke="#222" stroke-width="0.9"/>
<line x1="723.3" y1="1154.8" x2="726.8" y2="1154.8" stroke="#222" stroke-width="0.9"/>
<line x1="723.3" y1="1157.5" x2="726.8" y2="1157.5" stroke="#222" stroke-width="0.9"/>
<line x1="723.3" y1="1161.6" x2="726.8" y2="1161.6" stroke="#222" stroke-width="0.9"/>
<line x1="723.3" y1="1165.5" x2="726.8" y2="1165.5" stroke="#222" stroke-width="0.9"/>
<line x1="723.3" y1="1168.9" x2="726.8" y2="1168.9" stroke="#222" stroke-width="0.9"/>
<line x1="723.3" y1="1172.7" x2="726.8" y2="1172.7" stroke="#222" stroke-width="0.9"/>
<line x1="723.3" y1="1177.6" x2="726.8" y2="1177.6" stroke="#222" stroke-width="0.9"/>
<line x1="723.3" y1="1181.9" x2="726.8" y2="1181.9" stroke="#222" stroke-width="0.9"/>
<line x1="723.3" y1="1199.3" x2="726.8" y2="1199.3" stroke="#222" stroke-width="0.9"/>
<line x1="723.3" y1="1204.2" x2="726.8" y2="1204.2" stroke="#222" stroke-width="0.9"/>
<line x1="723.3" y1="1208" x2="726.8" y2="1208" stroke="#222" stroke-width="0.9"/>
<line x1="723.3" y1="1216.7" x2="726.8" y2="1216.7" stroke="#222" stroke-width="0.9"/>
<line x1="723.3" y1="1220.6" x2="726.8" y2="1220.6" stroke="#222" stroke-width="0.9"/>
<line x1="723.3" y1="1223.5" x2="726.8" y2="1223.5" stroke="#222" stroke-width="0.9"/>
<line x1="723.3" y1="1226.4" x2="726.8" y2="1226.4" stroke="#222" stroke-width="0.9"/>
<line x1="720.8" y1="1212.9" x2="726.8" y2="1212.9" stroke="#222" stroke-width="0.9"/>
<line x1="720.8" y1="1229.2" x2="726.8" y2="1229.2" stroke="#222" stroke-width="0.9"/>
<line x1="722.3" y1="1185.9" x2="726.8" y2="1185.9" stroke="#222" stroke-width="0.8"/>
<line x1="722.3" y1="1187.5" x2="726.8" y2="1187.5" stroke="#222" stroke-width="0.8"/>
<line x1="722.3" y1="1189.1" x2="726.8" y2="1189.1" stroke="#222" stroke-width="0.8"/>
<line x1="722.3" y1="1190.7" x2="726.8" y2="1190.7" stroke="#222" stroke-width="0.8"/>
<line x1="722.3" y1="1192.3" x2="726.8" y2="1192.3" stroke="#222" stroke-width="0.8"/>
<line x1="722.3" y1="1193.9" x2="726.8" y2="1193.9" stroke="#222" stroke-width="0.8"/>
<line x1="722.3" y1="1195.5" x2="726.8" y2="1195.5" stroke="#222" stroke-width="0.8"/>
<text x="711.3" y="1030.6" font-size="7.6" text-anchor="end" fill="#222">10<tspan font-size="4.7" dy="-3">5</tspan></text>
<text x="711.3" y="1088" font-size="7.6" text-anchor="end" fill="#222">10<tspan font-size="4.7" dy="-3">4</tspan></text>
<text x="711.3" y="1153.1" font-size="7.6" text-anchor="end" fill="#222">10<tspan font-size="4.7" dy="-3">3</tspan></text>
<text x="709.3" y="1192.7" font-size="7.6" text-anchor="end" fill="#222">0</text>
<text x="711.3" y="1231.7" font-size="7.6" text-anchor="end" fill="#222">-10<tspan font-size="4.7" dy="-3">3</tspan></text>
<line x1="726.9" y1="1243.2" x2="726.9" y2="1249.7" stroke="#222" stroke-width="0.9"/>
<line x1="753" y1="1243.2" x2="753" y2="1249.7" stroke="#222" stroke-width="0.9"/>
<line x1="775.9" y1="1243.2" x2="775.9" y2="1249.7" stroke="#222" stroke-width="0.9"/>
<line x1="829" y1="1243.2" x2="829" y2="1249.7" stroke="#222" stroke-width="0.9"/>
<line x1="886.5" y1="1243.2" x2="886.5" y2="1249.7" stroke="#222" stroke-width="0.9"/>
<line x1="940.9" y1="1243.2" x2="940.9" y2="1249.7" stroke="#222" stroke-width="0.9"/>
<line x1="731.8" y1="1243.2" x2="731.8" y2="1246.7" stroke="#222" stroke-width="0.9"/>
<line x1="741.6" y1="1243.2" x2="741.6" y2="1246.7" stroke="#222" stroke-width="0.9"/>
<line x1="785.7" y1="1243.2" x2="785.7" y2="1246.7" stroke="#222" stroke-width="0.9"/>
<line x1="794.7" y1="1243.2" x2="794.7" y2="1246.7" stroke="#222" stroke-width="0.9"/>
<line x1="802.8" y1="1243.2" x2="802.8" y2="1246.7" stroke="#222" stroke-width="0.9"/>
<line x1="813.8" y1="1243.2" x2="813.8" y2="1246.7" stroke="#222" stroke-width="0.9"/>
<line x1="817.8" y1="1243.2" x2="817.8" y2="1246.7" stroke="#222" stroke-width="0.9"/>
<line x1="820.8" y1="1243.2" x2="820.8" y2="1246.7" stroke="#222" stroke-width="0.9"/>
<line x1="824.1" y1="1243.2" x2="824.1" y2="1246.7" stroke="#222" stroke-width="0.9"/>
<line x1="847.8" y1="1243.2" x2="847.8" y2="1246.7" stroke="#222" stroke-width="0.9"/>
<line x1="857.6" y1="1243.2" x2="857.6" y2="1246.7" stroke="#222" stroke-width="0.9"/>
<line x1="864.1" y1="1243.2" x2="864.1" y2="1246.7" stroke="#222" stroke-width="0.9"/>
<line x1="869.8" y1="1243.2" x2="869.8" y2="1246.7" stroke="#222" stroke-width="0.9"/>
<line x1="874.7" y1="1243.2" x2="874.7" y2="1246.7" stroke="#222" stroke-width="0.9"/>
<line x1="878.8" y1="1243.2" x2="878.8" y2="1246.7" stroke="#222" stroke-width="0.9"/>
<line x1="882.9" y1="1243.2" x2="882.9" y2="1246.7" stroke="#222" stroke-width="0.9"/>
<line x1="903.3" y1="1243.2" x2="903.3" y2="1246.7" stroke="#222" stroke-width="0.9"/>
<line x1="913.1" y1="1243.2" x2="913.1" y2="1246.7" stroke="#222" stroke-width="0.9"/>
<line x1="919.7" y1="1243.2" x2="919.7" y2="1246.7" stroke="#222" stroke-width="0.9"/>
<line x1="924.6" y1="1243.2" x2="924.6" y2="1246.7" stroke="#222" stroke-width="0.9"/>
<line x1="929.5" y1="1243.2" x2="929.5" y2="1246.7" stroke="#222" stroke-width="0.9"/>
<line x1="932.7" y1="1243.2" x2="932.7" y2="1246.7" stroke="#222" stroke-width="0.9"/>
<line x1="936" y1="1243.2" x2="936" y2="1246.7" stroke="#222" stroke-width="0.9"/>
<line x1="938.5" y1="1243.2" x2="938.5" y2="1246.7" stroke="#222" stroke-width="0.9"/>
<line x1="957.2" y1="1243.2" x2="957.2" y2="1246.7" stroke="#222" stroke-width="0.9"/>
<line x1="755.2" y1="1243.2" x2="755.2" y2="1246.4" stroke="#444" stroke-width="0.7"/>
<line x1="757.5" y1="1243.2" x2="757.5" y2="1246.4" stroke="#444" stroke-width="0.7"/>
<line x1="759.8" y1="1243.2" x2="759.8" y2="1246.4" stroke="#444" stroke-width="0.7"/>
<line x1="762.1" y1="1243.2" x2="762.1" y2="1246.4" stroke="#444" stroke-width="0.7"/>
<line x1="764.4" y1="1243.2" x2="764.4" y2="1246.4" stroke="#444" stroke-width="0.7"/>
<line x1="766.7" y1="1243.2" x2="766.7" y2="1246.4" stroke="#444" stroke-width="0.7"/>
<line x1="769" y1="1243.2" x2="769" y2="1246.4" stroke="#444" stroke-width="0.7"/>
<line x1="771.3" y1="1243.2" x2="771.3" y2="1246.4" stroke="#444" stroke-width="0.7"/>
<line x1="773.6" y1="1243.2" x2="773.6" y2="1246.4" stroke="#444" stroke-width="0.7"/>
<line x1="762.8" y1="1243.2" x2="762.8" y2="1249.7" stroke="#000" stroke-width="0.9"/>
<line x1="763.6" y1="1243.2" x2="763.6" y2="1249.7" stroke="#000" stroke-width="0.9"/>
<line x1="764.4" y1="1243.2" x2="764.4" y2="1249.7" stroke="#000" stroke-width="0.9"/>
<line x1="765.2" y1="1243.2" x2="765.2" y2="1249.7" stroke="#000" stroke-width="0.9"/>
<line x1="766" y1="1243.2" x2="766" y2="1249.7" stroke="#000" stroke-width="0.9"/>
<text x="764.4" y="1266.5" font-size="8.2" text-anchor="middle" fill="#222">0</text>
<text x="827" y="1266.5" font-size="8.2" text-anchor="middle" fill="#222">10<tspan font-size="5.1" dy="-3">3</tspan></text>
<text x="885.3" y="1266.5" font-size="8.2" text-anchor="middle" fill="#222">10<tspan font-size="5.1" dy="-3">4</tspan></text>
<text x="939.8" y="1266.5" font-size="8.2" text-anchor="middle" fill="#222">10<tspan font-size="5.1" dy="-3">5</tspan></text>
<rect x="726.8" y="1005.9" width="238" height="237.3" fill="none" stroke="#3a3a3a" stroke-width="1.1"/>
<line x1="808.5" y1="1005.9" x2="808.5" y2="1243.2" stroke="#333" stroke-width="1.1"/>
<line x1="726.8" y1="1157.1" x2="964.8" y2="1157.1" stroke="#444" stroke-width="1.1"/>
<ellipse cx="778.2" cy="1180" rx="4.5" ry="4" transform="rotate(-0 778.2 1180)" fill="none" stroke="#111" stroke-width="1"/>
<ellipse cx="778.24" cy="1179.69" rx="7.58" ry="6.77" transform="rotate(-3.75 778.24 1179.69)" fill="none" stroke="#111" stroke-width="1"/>
<ellipse cx="778.28" cy="1179.38" rx="10.24" ry="9.17" transform="rotate(-7.5 778.28 1179.38)" fill="none" stroke="#111" stroke-width="1"/>
<ellipse cx="778.31" cy="1179.06" rx="12.77" ry="11.45" transform="rotate(-11.25 778.31 1179.06)" fill="none" stroke="#111" stroke-width="1"/>
<ellipse cx="778.35" cy="1178.75" rx="15.22" ry="13.65" transform="rotate(-15 778.35 1178.75)" fill="none" stroke="#111" stroke-width="1"/>
<ellipse cx="778.39" cy="1178.44" rx="17.6" ry="15.79" transform="rotate(-18.75 778.39 1178.44)" fill="none" stroke="#111" stroke-width="1"/>
<ellipse cx="778.42" cy="1178.12" rx="19.94" ry="17.89" transform="rotate(-22.5 778.42 1178.12)" fill="none" stroke="#111" stroke-width="1"/>
<ellipse cx="778.46" cy="1177.81" rx="22.24" ry="19.96" transform="rotate(-26.25 778.46 1177.81)" fill="none" stroke="#111" stroke-width="1"/>
<ellipse cx="778.5" cy="1177.5" rx="24.5" ry="22" transform="rotate(-30 778.5 1177.5)" fill="none" stroke="#111" stroke-width="1"/>
<rect x="786.69" y="1051.93" width="3" height="3" fill="#111"/>
<rect x="763.31" y="1081.04" width="3" height="3" fill="#111"/>
<rect x="777.36" y="1081.04" width="3" height="3" fill="#111"/>
<rect x="777.36" y="1087.64" width="3" height="3" fill="#111"/>
<rect x="773.63" y="1096.72" width="3" height="3" fill="#111"/>
<rect x="778.48" y="1098.83" width="3" height="3" fill="#111"/>
<rect x="748.38" y="1100.45" width="3" height="3" fill="#111"/>
<rect x="762.44" y="1114.38" width="3" height="3" fill="#111"/>
<rect x="785.07" y="1132.04" width="3" height="3" fill="#111"/>
<rect x="787.56" y="1133.66" width="3" height="3" fill="#111"/>
<rect x="790.67" y="1137.77" width="3" height="3" fill="#111"/>
<rect x="764.55" y="1140.75" width="3" height="3" fill="#111"/>
<rect x="770.77" y="1143.36" width="3" height="3" fill="#111"/>
<rect x="763.31" y="1145.23" width="3" height="3" fill="#111"/>
<rect x="767.66" y="1147.72" width="3" height="3" fill="#111"/>
<rect x="765.17" y="1151.7" width="3" height="3" fill="#111"/>
<rect x="772.01" y="1152.32" width="3" height="3" fill="#111"/>
<rect x="780.1" y="1148.96" width="3" height="3" fill="#111"/>
<rect x="783.21" y="1145.23" width="3" height="3" fill="#111"/>
<rect x="786.94" y="1141.75" width="3" height="3" fill="#111"/>
<rect x="792.54" y="1143.61" width="3" height="3" fill="#111"/>
<rect x="790.67" y="1147.97" width="3" height="3" fill="#111"/>
<rect x="793.16" y="1151.7" width="3" height="3" fill="#111"/>
<rect x="795.65" y="1155.43" width="3" height="3" fill="#111"/>
<rect x="798.14" y="1152.69" width="3" height="3" fill="#111"/>
<rect x="799.13" y="1140.75" width="3" height="3" fill="#111"/>
<rect x="807.47" y="1136.77" width="3" height="3" fill="#111"/>
<rect x="809.33" y="1155.68" width="3" height="3" fill="#111"/>
<rect x="805.6" y="1159.78" width="3" height="3" fill="#111"/>
<rect x="801.25" y="1162.27" width="3" height="3" fill="#111"/>
<rect x="804.98" y="1163.52" width="3" height="3" fill="#111"/>
<rect x="811.2" y="1163.27" width="3" height="3" fill="#111"/>
<rect x="817.79" y="1165.13" width="3" height="3" fill="#111"/>
<rect x="822.39" y="1166" width="3" height="3" fill="#111"/>
<rect x="821.4" y="1145.48" width="3" height="3" fill="#111"/>
<rect x="814.93" y="1171.6" width="3" height="3" fill="#111"/>
<rect x="802.74" y="1169.74" width="3" height="3" fill="#111"/>
<rect x="852.25" y="1164.14" width="3" height="3" fill="#111"/>
<rect x="863.44" y="1163.27" width="3" height="3" fill="#111"/>
<rect x="864.44" y="1132.17" width="3" height="3" fill="#111"/>
<rect x="867.42" y="1141.75" width="3" height="3" fill="#111"/>
<rect x="892.43" y="1140.75" width="3" height="3" fill="#111"/>
<rect x="842.92" y="1190.26" width="3" height="3" fill="#111"/>
<rect x="880.24" y="1208.92" width="3" height="3" fill="#111"/>
<rect x="732.46" y="1170.61" width="3" height="3" fill="#111"/>
<rect x="758.7" y="1158.17" width="3" height="3" fill="#111"/>
<rect x="760.82" y="1156.05" width="3" height="3" fill="#111"/>
<rect x="755.84" y="1170.36" width="3" height="3" fill="#111"/>
<rect x="752.73" y="1179.06" width="3" height="3" fill="#111"/>
<rect x="801.87" y="1180.31" width="3" height="3" fill="#111"/>
<rect x="802.86" y="1184.66" width="3" height="3" fill="#111"/>
<rect x="800.62" y="1190.26" width="3" height="3" fill="#111"/>
<rect x="798.14" y="1193.99" width="3" height="3" fill="#111"/>
<rect x="800" y="1194.61" width="3" height="3" fill="#111"/>
<rect x="766.42" y="1149.21" width="3" height="3" fill="#111"/>
<rect x="785.7" y="1138.01" width="3" height="3" fill="#111"/>
<rect x="789.43" y="1144.23" width="3" height="3" fill="#111"/>
<text x="730.7" y="1029.8" font-size="25.4">5.42</text>
<text x="955.4" y="1029.8" font-size="25.4" text-anchor="end">0.72</text>
<text x="955.4" y="1228.7" font-size="25.4" text-anchor="end">1.08</text>
<text x="274.7" y="655.3" font-size="33.6" text-anchor="middle">Naive</text>
<text x="560.2" y="655.3" font-size="34.3" text-anchor="middle">Spike<tspan font-size="19.5" dy="-11">Ax</tspan><tspan dy="11"> IM</tspan></text>
<text x="854" y="655.3" font-size="34.3" text-anchor="middle">Spike<tspan font-size="19.5" dy="-11">Ax</tspan><tspan dy="11"> IT</tspan></text>
<line x1="104.5" y1="904.1" x2="103.17" y2="705.6" stroke="#222" stroke-width="1.4"/>
<polygon points="103,681.6 92,706.6 114,706.6" fill="#231f20"/>
<text transform="translate(88.5,791.5) rotate(-90)" font-size="28.5" text-anchor="middle">IL17A-PB</text>
<line x1="106.2" y1="1245.3" x2="104.51" y2="1046.4" stroke="#222" stroke-width="1.4"/>
<polygon points="104.3,1022.4 93.3,1047.4 115.3,1047.4" fill="#231f20"/>
<text transform="translate(88.5,1127.3) rotate(-90)" font-size="28.5" text-anchor="middle">IL17A-PB</text>
<line x1="190.8" y1="952.6" x2="914.5" y2="952.6" stroke="#333" stroke-width="1.4"/>
<polygon points="934.5,952.6 910,942.2 910,963" fill="#231f20"/>
<text x="560" y="984.5" font-size="28" text-anchor="middle">TNF-PerCPCy5.5</text>
<line x1="192.2" y1="1293.3" x2="915.6" y2="1293.3" stroke="#333" stroke-width="1.4"/>
<polygon points="935.6,1293.3 911.1,1282.9 911.1,1303.7" fill="#231f20"/>
<text x="564" y="1324.3" font-size="28" text-anchor="middle">IL5-APC</text>
</svg>
</body></html>
